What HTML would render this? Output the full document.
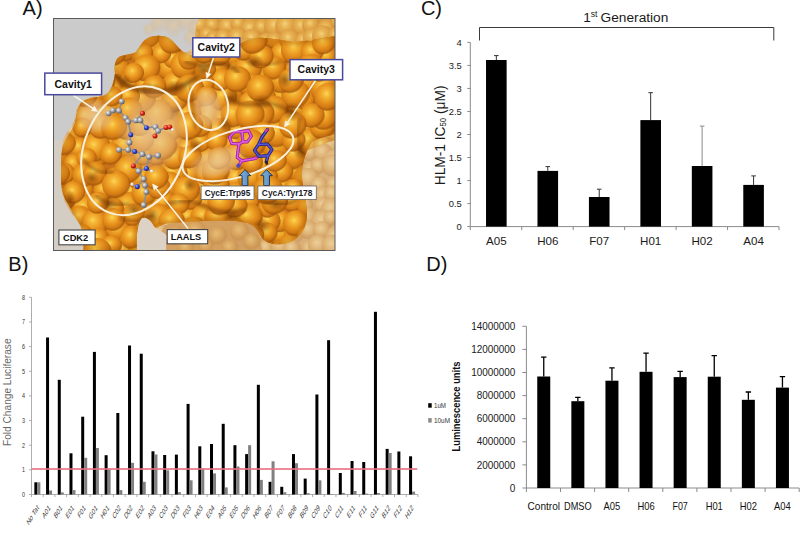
<!DOCTYPE html>
<html><head><meta charset="utf-8"><title>Figure</title>
<style>
html,body{margin:0;padding:0;background:#fff;}
body{width:800px;height:538px;overflow:hidden;font-family:"Liberation Sans", sans-serif;}
svg{display:block;font-family:"Liberation Sans", sans-serif;}
</style></head>
<body>
<svg width="800" height="538" viewBox="0 0 800 538">
<defs>
<clipPath id="cA"><rect x="53.5" y="18.5" width="281.5" height="232.0"/></clipPath>
<clipPath id="cB"><path d="M115 73C114 66 115 60 119 57C125 54 131 55 136 52C140 47 142 41 148 38C154 35 163 35 169 38C175 42 178 49 185 53C190 56 196 57 200 55L232 50C238 44 246 40 256 38C268 37 280 40 292 42C304 42 320 38 336 36L336 134C328 136 318 138 312 142C306 150 301 166 302 178C303 190 307 202 307 214C307 228 300 238 290 242C280 246 268 245 262 238C258 232 256 226 248 223C236 220 220 220 204 221C188 222 172 222 164 224C158 226 156 230 154 226C151 220 146 216 142 218C137 222 136 240 137 250.5L83.5 250.5C83.5 240 83 232 81 226C77 219 72 212 68 204C63 196 61 188 61 178C61 168 61 158 62 150C64 140 70 134 74 126C77 118 76 108 82 102C88 97 98 98 106 95C112 90 114 82 115 73Z"/></clipPath>
<radialGradient id="bs" cx="0.42" cy="0.38" r="0.62"><stop offset="0" stop-color="#fcd656"/><stop offset="0.2" stop-color="#f5b636"/><stop offset="0.5" stop-color="#e8941f"/><stop offset="0.76" stop-color="#d27a14"/><stop offset="0.9" stop-color="#aa5a0a" stop-opacity="0.85"/><stop offset="1" stop-color="#8a4404" stop-opacity="0"/></radialGradient>
<radialGradient id="bp" cx="0.42" cy="0.38" r="0.62"><stop offset="0" stop-color="#eccf98"/><stop offset="0.55" stop-color="#ddb074"/><stop offset="0.9" stop-color="#c89658" stop-opacity="0.6"/><stop offset="1" stop-color="#c89658" stop-opacity="0"/></radialGradient>
<radialGradient id="bq" cx="0.42" cy="0.38" r="0.62"><stop offset="0" stop-color="#e6bd78"/><stop offset="0.6" stop-color="#d49e58"/><stop offset="1" stop-color="#b88040" stop-opacity="0"/></radialGradient>
<radialGradient id="bm" cx="0.42" cy="0.38" r="0.62"><stop offset="0" stop-color="#f2d27c"/><stop offset="0.3" stop-color="#e8b252"/><stop offset="0.7" stop-color="#da9a40"/><stop offset="0.92" stop-color="#c2802c" stop-opacity="0.6"/><stop offset="1" stop-color="#c2802c" stop-opacity="0"/></radialGradient>
<radialGradient id="bg2" cx="0.42" cy="0.38" r="0.62"><stop offset="0" stop-color="#e2c8a0" stop-opacity="0.8"/><stop offset="1" stop-color="#d0b48c" stop-opacity="0"/></radialGradient>
<radialGradient id="sh" cx="0.5" cy="0.5" r="0.5"><stop offset="0" stop-color="#6a3000" stop-opacity="0.6"/><stop offset="1" stop-color="#6a3000" stop-opacity="0"/></radialGradient>
<radialGradient id="pl" cx="0.5" cy="0.5" r="0.5"><stop offset="0" stop-color="#ecd0a0" stop-opacity="0.8"/><stop offset="0.65" stop-color="#e4b880" stop-opacity="0.6"/><stop offset="1" stop-color="#e4b880" stop-opacity="0"/></radialGradient>
<radialGradient id="ball" cx="0.35" cy="0.35" r="0.7"><stop offset="0" stop-color="#f4f4f4"/><stop offset="0.5" stop-color="#a0a0a8"/><stop offset="1" stop-color="#55555c"/></radialGradient>
<radialGradient id="ballb" cx="0.35" cy="0.35" r="0.7"><stop offset="0" stop-color="#a0b0ff"/><stop offset="0.5" stop-color="#3344cc"/><stop offset="1" stop-color="#101870"/></radialGradient>
<radialGradient id="ballr" cx="0.35" cy="0.35" r="0.7"><stop offset="0" stop-color="#ffa090"/><stop offset="0.5" stop-color="#dd2211"/><stop offset="1" stop-color="#801008"/></radialGradient>
<radialGradient id="ballw" cx="0.35" cy="0.35" r="0.7"><stop offset="0" stop-color="#ffffff"/><stop offset="1" stop-color="#c8c8c8"/></radialGradient>
<linearGradient id="arr" x1="0" x2="1"><stop offset="0" stop-color="#86b6e0"/><stop offset="1" stop-color="#4f86bc"/></linearGradient>
<filter id="blur1" x="-5%" y="-5%" width="110%" height="110%"><feGaussianBlur stdDeviation="0.7"/></filter>
<filter id="blur2" x="-10%" y="-10%" width="120%" height="120%"><feGaussianBlur stdDeviation="1.8"/></filter>
<filter id="blur3" x="-5%" y="-5%" width="110%" height="110%"><feGaussianBlur stdDeviation="2.5"/></filter>
</defs>
<g clip-path="url(#cA)">
<rect x="53.5" y="18.5" width="281.5" height="232.0" fill="#dab07a"/>
<circle cx="47.6" cy="13.5" r="11.7" fill="url(#bp)"/>
<circle cx="60.7" cy="13.1" r="10.3" fill="url(#bp)"/>
<circle cx="71.5" cy="13.1" r="10.5" fill="url(#bp)"/>
<circle cx="89.3" cy="9.8" r="9.2" fill="url(#bp)"/>
<circle cx="96.7" cy="15.5" r="10.8" fill="url(#bp)"/>
<circle cx="109.3" cy="16.9" r="11.9" fill="url(#bp)"/>
<circle cx="127.2" cy="13.9" r="8.6" fill="url(#bp)"/>
<circle cx="135.1" cy="13.2" r="8.2" fill="url(#bp)"/>
<circle cx="149.5" cy="10.9" r="8.1" fill="url(#bp)"/>
<circle cx="164.7" cy="12.5" r="11.4" fill="url(#bp)"/>
<circle cx="178.2" cy="14.1" r="10.0" fill="url(#bp)"/>
<circle cx="192.3" cy="12.7" r="9.1" fill="url(#bp)"/>
<circle cx="208.0" cy="17.0" r="11.4" fill="url(#bp)"/>
<circle cx="218.7" cy="11.5" r="8.9" fill="url(#bp)"/>
<circle cx="228.3" cy="9.6" r="11.1" fill="url(#bp)"/>
<circle cx="242.2" cy="15.8" r="9.5" fill="url(#bp)"/>
<circle cx="259.7" cy="15.8" r="8.0" fill="url(#bp)"/>
<circle cx="266.7" cy="16.3" r="9.9" fill="url(#bp)"/>
<circle cx="285.8" cy="12.2" r="8.3" fill="url(#bp)"/>
<circle cx="296.0" cy="15.2" r="9.1" fill="url(#bp)"/>
<circle cx="304.7" cy="11.7" r="11.9" fill="url(#bp)"/>
<circle cx="323.1" cy="9.9" r="9.0" fill="url(#bp)"/>
<circle cx="330.8" cy="9.5" r="11.2" fill="url(#bp)"/>
<circle cx="45.4" cy="26.5" r="9.8" fill="url(#bp)"/>
<circle cx="58.5" cy="27.9" r="8.5" fill="url(#bp)"/>
<circle cx="75.1" cy="22.9" r="9.7" fill="url(#bp)"/>
<circle cx="84.7" cy="24.2" r="11.9" fill="url(#bp)"/>
<circle cx="102.4" cy="24.4" r="11.5" fill="url(#bp)"/>
<circle cx="110.7" cy="25.2" r="11.4" fill="url(#bp)"/>
<circle cx="127.1" cy="22.8" r="12.0" fill="url(#bp)"/>
<circle cx="136.7" cy="24.1" r="11.1" fill="url(#bp)"/>
<circle cx="150.6" cy="24.4" r="8.3" fill="url(#bp)"/>
<circle cx="161.7" cy="26.7" r="9.0" fill="url(#bp)"/>
<circle cx="178.8" cy="25.0" r="9.8" fill="url(#bp)"/>
<circle cx="194.7" cy="25.9" r="10.3" fill="url(#bp)"/>
<circle cx="206.9" cy="23.5" r="8.6" fill="url(#bp)"/>
<circle cx="220.3" cy="28.5" r="9.0" fill="url(#bp)"/>
<circle cx="227.5" cy="27.9" r="11.8" fill="url(#bp)"/>
<circle cx="240.6" cy="29.6" r="11.5" fill="url(#bp)"/>
<circle cx="256.8" cy="25.4" r="8.4" fill="url(#bp)"/>
<circle cx="265.3" cy="29.7" r="9.0" fill="url(#bp)"/>
<circle cx="283.6" cy="24.1" r="11.3" fill="url(#bp)"/>
<circle cx="295.8" cy="24.3" r="8.7" fill="url(#bp)"/>
<circle cx="309.8" cy="22.6" r="8.9" fill="url(#bp)"/>
<circle cx="321.5" cy="28.8" r="10.5" fill="url(#bp)"/>
<circle cx="332.2" cy="29.3" r="8.8" fill="url(#bp)"/>
<circle cx="44.1" cy="37.2" r="9.8" fill="url(#bp)"/>
<circle cx="57.5" cy="36.4" r="9.5" fill="url(#bp)"/>
<circle cx="74.6" cy="36.1" r="9.4" fill="url(#bp)"/>
<circle cx="90.1" cy="42.8" r="10.6" fill="url(#bp)"/>
<circle cx="101.5" cy="39.7" r="8.6" fill="url(#bp)"/>
<circle cx="109.3" cy="35.1" r="11.6" fill="url(#bp)"/>
<circle cx="127.6" cy="42.7" r="8.1" fill="url(#bp)"/>
<circle cx="140.1" cy="38.9" r="10.9" fill="url(#bp)"/>
<circle cx="150.6" cy="43.0" r="8.3" fill="url(#bp)"/>
<circle cx="165.4" cy="40.9" r="11.6" fill="url(#bp)"/>
<circle cx="179.9" cy="40.6" r="11.2" fill="url(#bp)"/>
<circle cx="194.3" cy="37.8" r="10.7" fill="url(#bp)"/>
<circle cx="207.2" cy="42.0" r="9.7" fill="url(#bp)"/>
<circle cx="219.3" cy="41.9" r="10.3" fill="url(#bp)"/>
<circle cx="231.0" cy="38.1" r="10.3" fill="url(#bp)"/>
<circle cx="243.9" cy="35.6" r="10.6" fill="url(#bp)"/>
<circle cx="259.9" cy="42.0" r="10.9" fill="url(#bp)"/>
<circle cx="268.1" cy="40.9" r="10.3" fill="url(#bp)"/>
<circle cx="281.5" cy="41.7" r="8.3" fill="url(#bp)"/>
<circle cx="297.0" cy="35.2" r="10.4" fill="url(#bp)"/>
<circle cx="307.8" cy="36.8" r="10.8" fill="url(#bp)"/>
<circle cx="321.0" cy="39.9" r="11.7" fill="url(#bp)"/>
<circle cx="332.0" cy="35.1" r="9.2" fill="url(#bp)"/>
<circle cx="49.4" cy="49.6" r="8.7" fill="url(#bp)"/>
<circle cx="64.2" cy="53.3" r="9.8" fill="url(#bp)"/>
<circle cx="77.1" cy="50.6" r="10.7" fill="url(#bp)"/>
<circle cx="84.6" cy="51.4" r="11.2" fill="url(#bp)"/>
<circle cx="103.3" cy="55.0" r="9.5" fill="url(#bp)"/>
<circle cx="113.7" cy="50.5" r="8.5" fill="url(#bp)"/>
<circle cx="126.0" cy="54.7" r="11.4" fill="url(#bp)"/>
<circle cx="140.7" cy="55.6" r="9.1" fill="url(#bp)"/>
<circle cx="149.4" cy="51.6" r="9.1" fill="url(#bp)"/>
<circle cx="162.7" cy="51.3" r="10.5" fill="url(#bp)"/>
<circle cx="178.0" cy="50.5" r="11.4" fill="url(#bp)"/>
<circle cx="194.9" cy="51.6" r="8.3" fill="url(#bp)"/>
<circle cx="200.3" cy="55.0" r="8.2" fill="url(#bp)"/>
<circle cx="218.7" cy="52.6" r="9.2" fill="url(#bp)"/>
<circle cx="232.3" cy="48.2" r="8.5" fill="url(#bp)"/>
<circle cx="242.6" cy="48.2" r="11.3" fill="url(#bp)"/>
<circle cx="253.9" cy="49.1" r="8.2" fill="url(#bp)"/>
<circle cx="270.0" cy="51.6" r="10.5" fill="url(#bp)"/>
<circle cx="283.2" cy="54.5" r="11.8" fill="url(#bp)"/>
<circle cx="296.5" cy="49.6" r="9.9" fill="url(#bp)"/>
<circle cx="305.4" cy="48.1" r="9.9" fill="url(#bp)"/>
<circle cx="322.7" cy="49.4" r="9.1" fill="url(#bp)"/>
<circle cx="332.8" cy="53.6" r="10.1" fill="url(#bp)"/>
<circle cx="48.9" cy="67.0" r="9.6" fill="url(#bp)"/>
<circle cx="63.3" cy="68.2" r="8.3" fill="url(#bp)"/>
<circle cx="77.5" cy="66.8" r="8.5" fill="url(#bp)"/>
<circle cx="86.6" cy="66.0" r="11.6" fill="url(#bp)"/>
<circle cx="99.0" cy="65.6" r="11.5" fill="url(#bp)"/>
<circle cx="115.4" cy="68.6" r="9.9" fill="url(#bp)"/>
<circle cx="127.2" cy="62.6" r="10.9" fill="url(#bp)"/>
<circle cx="141.5" cy="66.1" r="10.9" fill="url(#bp)"/>
<circle cx="149.7" cy="68.2" r="11.9" fill="url(#bp)"/>
<circle cx="168.8" cy="65.3" r="11.2" fill="url(#bp)"/>
<circle cx="176.6" cy="68.3" r="11.4" fill="url(#bp)"/>
<circle cx="189.8" cy="61.7" r="9.8" fill="url(#bp)"/>
<circle cx="204.4" cy="67.1" r="9.9" fill="url(#bp)"/>
<circle cx="213.2" cy="67.5" r="8.3" fill="url(#bp)"/>
<circle cx="232.4" cy="62.4" r="9.3" fill="url(#bp)"/>
<circle cx="245.3" cy="62.1" r="8.6" fill="url(#bp)"/>
<circle cx="256.1" cy="66.8" r="11.4" fill="url(#bp)"/>
<circle cx="270.5" cy="68.6" r="10.0" fill="url(#bp)"/>
<circle cx="285.6" cy="61.7" r="8.9" fill="url(#bp)"/>
<circle cx="295.2" cy="63.3" r="10.9" fill="url(#bp)"/>
<circle cx="309.1" cy="65.2" r="11.4" fill="url(#bp)"/>
<circle cx="321.5" cy="63.5" r="9.5" fill="url(#bp)"/>
<circle cx="336.8" cy="68.2" r="8.8" fill="url(#bp)"/>
<circle cx="50.8" cy="81.7" r="10.1" fill="url(#bp)"/>
<circle cx="61.6" cy="75.6" r="10.1" fill="url(#bp)"/>
<circle cx="74.0" cy="78.8" r="8.1" fill="url(#bp)"/>
<circle cx="90.8" cy="78.1" r="9.6" fill="url(#bp)"/>
<circle cx="102.4" cy="78.5" r="10.0" fill="url(#bp)"/>
<circle cx="114.5" cy="74.5" r="10.2" fill="url(#bp)"/>
<circle cx="125.3" cy="81.7" r="11.7" fill="url(#bp)"/>
<circle cx="137.2" cy="77.8" r="8.5" fill="url(#bp)"/>
<circle cx="151.5" cy="80.5" r="11.6" fill="url(#bp)"/>
<circle cx="164.8" cy="76.5" r="8.8" fill="url(#bp)"/>
<circle cx="178.9" cy="81.4" r="8.5" fill="url(#bp)"/>
<circle cx="193.2" cy="74.2" r="8.8" fill="url(#bp)"/>
<circle cx="201.8" cy="79.5" r="9.3" fill="url(#bp)"/>
<circle cx="215.8" cy="79.0" r="8.4" fill="url(#bp)"/>
<circle cx="231.8" cy="75.0" r="10.0" fill="url(#bp)"/>
<circle cx="241.0" cy="75.6" r="10.1" fill="url(#bp)"/>
<circle cx="255.5" cy="77.0" r="9.7" fill="url(#bp)"/>
<circle cx="269.2" cy="75.3" r="8.8" fill="url(#bp)"/>
<circle cx="283.1" cy="79.1" r="10.1" fill="url(#bp)"/>
<circle cx="297.8" cy="78.9" r="11.4" fill="url(#bp)"/>
<circle cx="305.9" cy="79.9" r="11.2" fill="url(#bp)"/>
<circle cx="324.2" cy="76.5" r="9.3" fill="url(#bp)"/>
<circle cx="337.4" cy="75.7" r="12.0" fill="url(#bp)"/>
<circle cx="51.1" cy="88.1" r="9.0" fill="url(#bp)"/>
<circle cx="62.8" cy="89.1" r="8.4" fill="url(#bp)"/>
<circle cx="76.7" cy="90.4" r="11.2" fill="url(#bp)"/>
<circle cx="84.0" cy="90.2" r="10.7" fill="url(#bp)"/>
<circle cx="96.1" cy="88.6" r="10.7" fill="url(#bp)"/>
<circle cx="116.3" cy="94.7" r="8.5" fill="url(#bp)"/>
<circle cx="126.0" cy="93.1" r="10.0" fill="url(#bp)"/>
<circle cx="140.5" cy="88.5" r="8.3" fill="url(#bp)"/>
<circle cx="148.8" cy="87.3" r="10.2" fill="url(#bp)"/>
<circle cx="165.1" cy="91.5" r="8.6" fill="url(#bp)"/>
<circle cx="175.5" cy="88.6" r="11.4" fill="url(#bp)"/>
<circle cx="194.9" cy="94.4" r="8.4" fill="url(#bp)"/>
<circle cx="200.5" cy="94.6" r="9.8" fill="url(#bp)"/>
<circle cx="219.1" cy="89.6" r="9.9" fill="url(#bp)"/>
<circle cx="230.1" cy="90.4" r="10.4" fill="url(#bp)"/>
<circle cx="239.1" cy="92.6" r="11.4" fill="url(#bp)"/>
<circle cx="253.5" cy="90.6" r="11.0" fill="url(#bp)"/>
<circle cx="268.2" cy="88.6" r="8.7" fill="url(#bp)"/>
<circle cx="282.1" cy="87.1" r="11.6" fill="url(#bp)"/>
<circle cx="297.4" cy="92.6" r="11.4" fill="url(#bp)"/>
<circle cx="309.0" cy="90.2" r="10.4" fill="url(#bp)"/>
<circle cx="321.0" cy="94.9" r="11.2" fill="url(#bp)"/>
<circle cx="332.1" cy="94.3" r="11.0" fill="url(#bp)"/>
<circle cx="50.2" cy="106.5" r="9.6" fill="url(#bp)"/>
<circle cx="64.2" cy="107.0" r="10.8" fill="url(#bp)"/>
<circle cx="76.1" cy="106.1" r="9.6" fill="url(#bp)"/>
<circle cx="88.8" cy="100.6" r="9.4" fill="url(#bp)"/>
<circle cx="99.8" cy="100.1" r="9.4" fill="url(#bp)"/>
<circle cx="114.1" cy="105.0" r="8.9" fill="url(#bp)"/>
<circle cx="129.6" cy="105.3" r="9.4" fill="url(#bp)"/>
<circle cx="140.3" cy="104.6" r="10.1" fill="url(#bp)"/>
<circle cx="151.1" cy="108.0" r="10.6" fill="url(#bp)"/>
<circle cx="166.6" cy="106.1" r="11.9" fill="url(#bp)"/>
<circle cx="174.2" cy="104.9" r="11.0" fill="url(#bp)"/>
<circle cx="189.1" cy="103.2" r="8.2" fill="url(#bp)"/>
<circle cx="201.6" cy="103.0" r="8.4" fill="url(#bp)"/>
<circle cx="215.0" cy="107.2" r="10.2" fill="url(#bp)"/>
<circle cx="230.1" cy="107.7" r="10.3" fill="url(#bp)"/>
<circle cx="247.0" cy="105.1" r="11.2" fill="url(#bp)"/>
<circle cx="252.6" cy="104.8" r="11.0" fill="url(#bp)"/>
<circle cx="265.4" cy="107.4" r="8.6" fill="url(#bp)"/>
<circle cx="281.8" cy="101.4" r="10.0" fill="url(#bp)"/>
<circle cx="295.9" cy="100.5" r="11.8" fill="url(#bp)"/>
<circle cx="307.4" cy="104.2" r="10.4" fill="url(#bp)"/>
<circle cx="319.9" cy="102.3" r="10.6" fill="url(#bp)"/>
<circle cx="334.5" cy="102.3" r="10.9" fill="url(#bp)"/>
<circle cx="46.4" cy="113.1" r="9.0" fill="url(#bp)"/>
<circle cx="57.3" cy="114.3" r="11.0" fill="url(#bp)"/>
<circle cx="73.1" cy="120.2" r="11.0" fill="url(#bp)"/>
<circle cx="83.4" cy="120.9" r="11.8" fill="url(#bp)"/>
<circle cx="96.6" cy="120.2" r="9.7" fill="url(#bp)"/>
<circle cx="112.8" cy="120.8" r="9.0" fill="url(#bp)"/>
<circle cx="126.2" cy="120.5" r="10.9" fill="url(#bp)"/>
<circle cx="138.7" cy="120.8" r="11.3" fill="url(#bp)"/>
<circle cx="152.8" cy="113.9" r="10.5" fill="url(#bp)"/>
<circle cx="164.6" cy="114.6" r="8.2" fill="url(#bp)"/>
<circle cx="178.2" cy="114.0" r="9.8" fill="url(#bp)"/>
<circle cx="192.3" cy="116.6" r="9.0" fill="url(#bp)"/>
<circle cx="204.7" cy="116.4" r="11.1" fill="url(#bp)"/>
<circle cx="217.2" cy="121.0" r="11.8" fill="url(#bp)"/>
<circle cx="231.9" cy="114.9" r="8.5" fill="url(#bp)"/>
<circle cx="246.1" cy="119.3" r="10.5" fill="url(#bp)"/>
<circle cx="254.9" cy="115.2" r="10.7" fill="url(#bp)"/>
<circle cx="269.5" cy="117.7" r="10.5" fill="url(#bp)"/>
<circle cx="284.0" cy="114.5" r="9.0" fill="url(#bp)"/>
<circle cx="298.8" cy="120.3" r="11.5" fill="url(#bp)"/>
<circle cx="304.3" cy="113.5" r="9.1" fill="url(#bp)"/>
<circle cx="320.4" cy="118.0" r="8.4" fill="url(#bp)"/>
<circle cx="334.3" cy="113.6" r="8.3" fill="url(#bp)"/>
<circle cx="49.4" cy="130.4" r="10.5" fill="url(#bp)"/>
<circle cx="60.0" cy="129.8" r="8.8" fill="url(#bp)"/>
<circle cx="72.7" cy="132.0" r="11.4" fill="url(#bp)"/>
<circle cx="83.6" cy="127.0" r="11.2" fill="url(#bp)"/>
<circle cx="101.0" cy="132.2" r="8.9" fill="url(#bp)"/>
<circle cx="112.4" cy="128.1" r="11.2" fill="url(#bp)"/>
<circle cx="125.0" cy="131.2" r="12.0" fill="url(#bp)"/>
<circle cx="137.6" cy="130.4" r="11.0" fill="url(#bp)"/>
<circle cx="155.4" cy="129.4" r="9.5" fill="url(#bp)"/>
<circle cx="161.8" cy="133.0" r="8.3" fill="url(#bp)"/>
<circle cx="174.7" cy="130.5" r="9.9" fill="url(#bp)"/>
<circle cx="192.5" cy="128.4" r="11.1" fill="url(#bp)"/>
<circle cx="200.6" cy="127.7" r="10.6" fill="url(#bp)"/>
<circle cx="213.7" cy="128.4" r="10.9" fill="url(#bp)"/>
<circle cx="231.6" cy="128.3" r="8.6" fill="url(#bp)"/>
<circle cx="241.9" cy="131.8" r="9.5" fill="url(#bp)"/>
<circle cx="252.9" cy="131.7" r="10.3" fill="url(#bp)"/>
<circle cx="272.3" cy="133.5" r="11.7" fill="url(#bp)"/>
<circle cx="281.5" cy="132.4" r="9.2" fill="url(#bp)"/>
<circle cx="293.5" cy="129.2" r="11.7" fill="url(#bp)"/>
<circle cx="311.2" cy="128.0" r="9.4" fill="url(#bp)"/>
<circle cx="319.9" cy="128.9" r="9.6" fill="url(#bp)"/>
<circle cx="333.1" cy="127.6" r="10.3" fill="url(#bp)"/>
<circle cx="50.4" cy="143.3" r="11.3" fill="url(#bp)"/>
<circle cx="61.5" cy="140.4" r="11.0" fill="url(#bp)"/>
<circle cx="77.0" cy="141.3" r="8.1" fill="url(#bp)"/>
<circle cx="87.1" cy="143.4" r="10.3" fill="url(#bp)"/>
<circle cx="103.7" cy="144.2" r="11.2" fill="url(#bp)"/>
<circle cx="109.5" cy="143.4" r="11.2" fill="url(#bp)"/>
<circle cx="122.7" cy="139.7" r="10.9" fill="url(#bp)"/>
<circle cx="142.2" cy="139.7" r="10.5" fill="url(#bp)"/>
<circle cx="149.2" cy="145.0" r="10.6" fill="url(#bp)"/>
<circle cx="163.0" cy="140.8" r="11.1" fill="url(#bp)"/>
<circle cx="178.2" cy="145.1" r="9.6" fill="url(#bp)"/>
<circle cx="189.7" cy="146.7" r="10.7" fill="url(#bp)"/>
<circle cx="203.9" cy="143.3" r="10.9" fill="url(#bp)"/>
<circle cx="218.7" cy="146.3" r="9.6" fill="url(#bp)"/>
<circle cx="232.6" cy="144.3" r="11.4" fill="url(#bp)"/>
<circle cx="245.4" cy="145.7" r="11.6" fill="url(#bp)"/>
<circle cx="259.7" cy="144.1" r="10.1" fill="url(#bp)"/>
<circle cx="270.7" cy="145.4" r="9.7" fill="url(#bp)"/>
<circle cx="281.4" cy="140.2" r="11.0" fill="url(#bp)"/>
<circle cx="298.9" cy="142.0" r="8.7" fill="url(#bp)"/>
<circle cx="305.6" cy="142.4" r="9.2" fill="url(#bp)"/>
<circle cx="324.8" cy="139.5" r="9.2" fill="url(#bp)"/>
<circle cx="330.9" cy="144.2" r="11.1" fill="url(#bp)"/>
<circle cx="45.4" cy="152.5" r="9.8" fill="url(#bp)"/>
<circle cx="61.7" cy="159.3" r="8.1" fill="url(#bp)"/>
<circle cx="70.9" cy="153.5" r="8.9" fill="url(#bp)"/>
<circle cx="84.9" cy="157.7" r="10.4" fill="url(#bp)"/>
<circle cx="97.8" cy="153.5" r="9.1" fill="url(#bp)"/>
<circle cx="110.4" cy="158.1" r="9.2" fill="url(#bp)"/>
<circle cx="126.4" cy="158.5" r="9.9" fill="url(#bp)"/>
<circle cx="137.1" cy="159.1" r="11.7" fill="url(#bp)"/>
<circle cx="150.7" cy="156.4" r="11.8" fill="url(#bp)"/>
<circle cx="164.9" cy="153.8" r="8.2" fill="url(#bp)"/>
<circle cx="181.6" cy="158.4" r="9.5" fill="url(#bp)"/>
<circle cx="191.2" cy="156.1" r="9.1" fill="url(#bp)"/>
<circle cx="207.9" cy="157.3" r="9.0" fill="url(#bp)"/>
<circle cx="213.1" cy="155.8" r="9.5" fill="url(#bp)"/>
<circle cx="232.4" cy="157.7" r="10.4" fill="url(#bp)"/>
<circle cx="240.3" cy="153.3" r="9.3" fill="url(#bp)"/>
<circle cx="254.1" cy="159.0" r="10.1" fill="url(#bp)"/>
<circle cx="270.1" cy="159.9" r="9.1" fill="url(#bp)"/>
<circle cx="282.3" cy="153.2" r="11.1" fill="url(#bp)"/>
<circle cx="291.0" cy="158.6" r="11.4" fill="url(#bp)"/>
<circle cx="310.6" cy="152.7" r="9.1" fill="url(#bp)"/>
<circle cx="322.7" cy="152.8" r="9.9" fill="url(#bp)"/>
<circle cx="333.7" cy="159.6" r="10.3" fill="url(#bp)"/>
<circle cx="50.9" cy="167.4" r="11.2" fill="url(#bp)"/>
<circle cx="60.3" cy="172.3" r="8.4" fill="url(#bp)"/>
<circle cx="76.6" cy="166.7" r="10.2" fill="url(#bp)"/>
<circle cx="87.2" cy="166.3" r="11.3" fill="url(#bp)"/>
<circle cx="98.5" cy="167.5" r="8.3" fill="url(#bp)"/>
<circle cx="111.4" cy="168.7" r="10.9" fill="url(#bp)"/>
<circle cx="124.9" cy="170.5" r="8.4" fill="url(#bp)"/>
<circle cx="138.2" cy="168.7" r="11.9" fill="url(#bp)"/>
<circle cx="154.6" cy="170.2" r="8.0" fill="url(#bp)"/>
<circle cx="164.0" cy="170.7" r="8.9" fill="url(#bp)"/>
<circle cx="178.5" cy="168.7" r="8.0" fill="url(#bp)"/>
<circle cx="194.9" cy="171.4" r="8.8" fill="url(#bp)"/>
<circle cx="204.9" cy="167.3" r="9.5" fill="url(#bp)"/>
<circle cx="217.3" cy="167.4" r="9.3" fill="url(#bp)"/>
<circle cx="229.1" cy="170.3" r="9.0" fill="url(#bp)"/>
<circle cx="240.6" cy="170.9" r="9.3" fill="url(#bp)"/>
<circle cx="259.6" cy="169.5" r="10.9" fill="url(#bp)"/>
<circle cx="267.7" cy="171.6" r="8.4" fill="url(#bp)"/>
<circle cx="279.1" cy="165.8" r="10.7" fill="url(#bp)"/>
<circle cx="296.7" cy="166.4" r="9.6" fill="url(#bp)"/>
<circle cx="310.7" cy="169.7" r="8.4" fill="url(#bp)"/>
<circle cx="318.8" cy="166.3" r="8.5" fill="url(#bp)"/>
<circle cx="333.3" cy="165.6" r="11.7" fill="url(#bp)"/>
<circle cx="47.4" cy="182.1" r="10.6" fill="url(#bp)"/>
<circle cx="63.1" cy="184.6" r="9.5" fill="url(#bp)"/>
<circle cx="72.7" cy="181.3" r="8.1" fill="url(#bp)"/>
<circle cx="86.2" cy="183.6" r="11.9" fill="url(#bp)"/>
<circle cx="102.3" cy="183.3" r="10.4" fill="url(#bp)"/>
<circle cx="109.1" cy="180.6" r="9.4" fill="url(#bp)"/>
<circle cx="127.2" cy="178.9" r="9.5" fill="url(#bp)"/>
<circle cx="139.1" cy="184.3" r="11.3" fill="url(#bp)"/>
<circle cx="152.9" cy="179.3" r="11.1" fill="url(#bp)"/>
<circle cx="168.2" cy="182.4" r="9.4" fill="url(#bp)"/>
<circle cx="178.0" cy="179.1" r="10.9" fill="url(#bp)"/>
<circle cx="194.9" cy="182.1" r="10.9" fill="url(#bp)"/>
<circle cx="206.7" cy="179.6" r="11.8" fill="url(#bp)"/>
<circle cx="218.0" cy="179.6" r="8.3" fill="url(#bp)"/>
<circle cx="228.0" cy="182.6" r="10.8" fill="url(#bp)"/>
<circle cx="241.6" cy="185.4" r="9.4" fill="url(#bp)"/>
<circle cx="255.7" cy="179.0" r="11.9" fill="url(#bp)"/>
<circle cx="266.1" cy="185.2" r="10.2" fill="url(#bp)"/>
<circle cx="282.5" cy="182.5" r="9.1" fill="url(#bp)"/>
<circle cx="298.3" cy="185.9" r="11.3" fill="url(#bp)"/>
<circle cx="308.8" cy="179.0" r="11.3" fill="url(#bp)"/>
<circle cx="319.3" cy="185.2" r="9.0" fill="url(#bp)"/>
<circle cx="334.6" cy="184.6" r="8.7" fill="url(#bp)"/>
<circle cx="48.4" cy="191.6" r="8.1" fill="url(#bp)"/>
<circle cx="58.4" cy="198.9" r="11.8" fill="url(#bp)"/>
<circle cx="75.3" cy="193.5" r="10.7" fill="url(#bp)"/>
<circle cx="88.9" cy="194.1" r="10.4" fill="url(#bp)"/>
<circle cx="102.4" cy="191.1" r="8.8" fill="url(#bp)"/>
<circle cx="112.7" cy="192.1" r="9.5" fill="url(#bp)"/>
<circle cx="126.6" cy="192.4" r="10.1" fill="url(#bp)"/>
<circle cx="137.1" cy="195.5" r="9.3" fill="url(#bp)"/>
<circle cx="153.1" cy="191.3" r="10.7" fill="url(#bp)"/>
<circle cx="162.2" cy="198.7" r="10.4" fill="url(#bp)"/>
<circle cx="177.8" cy="194.3" r="10.5" fill="url(#bp)"/>
<circle cx="192.5" cy="197.1" r="11.0" fill="url(#bp)"/>
<circle cx="203.9" cy="199.0" r="11.4" fill="url(#bp)"/>
<circle cx="219.8" cy="194.3" r="9.7" fill="url(#bp)"/>
<circle cx="230.5" cy="198.2" r="10.1" fill="url(#bp)"/>
<circle cx="243.2" cy="194.5" r="11.6" fill="url(#bp)"/>
<circle cx="254.6" cy="191.4" r="10.9" fill="url(#bp)"/>
<circle cx="272.2" cy="196.9" r="10.4" fill="url(#bp)"/>
<circle cx="284.0" cy="193.4" r="10.4" fill="url(#bp)"/>
<circle cx="291.6" cy="192.0" r="9.8" fill="url(#bp)"/>
<circle cx="308.0" cy="194.2" r="8.2" fill="url(#bp)"/>
<circle cx="322.6" cy="195.2" r="9.0" fill="url(#bp)"/>
<circle cx="332.5" cy="194.2" r="8.9" fill="url(#bp)"/>
<circle cx="44.5" cy="211.3" r="11.9" fill="url(#bp)"/>
<circle cx="62.3" cy="210.9" r="9.7" fill="url(#bp)"/>
<circle cx="76.4" cy="205.8" r="11.0" fill="url(#bp)"/>
<circle cx="87.5" cy="211.2" r="8.4" fill="url(#bp)"/>
<circle cx="102.3" cy="205.0" r="10.2" fill="url(#bp)"/>
<circle cx="116.6" cy="204.0" r="9.0" fill="url(#bp)"/>
<circle cx="124.4" cy="206.6" r="8.3" fill="url(#bp)"/>
<circle cx="142.2" cy="210.5" r="9.6" fill="url(#bp)"/>
<circle cx="150.9" cy="208.7" r="8.2" fill="url(#bp)"/>
<circle cx="161.2" cy="211.2" r="9.2" fill="url(#bp)"/>
<circle cx="178.0" cy="211.5" r="11.9" fill="url(#bp)"/>
<circle cx="190.8" cy="205.7" r="9.2" fill="url(#bp)"/>
<circle cx="207.4" cy="211.2" r="8.8" fill="url(#bp)"/>
<circle cx="219.7" cy="206.8" r="9.9" fill="url(#bp)"/>
<circle cx="227.4" cy="211.0" r="12.0" fill="url(#bp)"/>
<circle cx="240.6" cy="209.1" r="8.8" fill="url(#bp)"/>
<circle cx="259.0" cy="204.4" r="8.4" fill="url(#bp)"/>
<circle cx="270.8" cy="206.5" r="11.6" fill="url(#bp)"/>
<circle cx="285.0" cy="209.7" r="8.5" fill="url(#bp)"/>
<circle cx="296.6" cy="211.5" r="9.8" fill="url(#bp)"/>
<circle cx="304.6" cy="205.8" r="9.2" fill="url(#bp)"/>
<circle cx="322.7" cy="205.6" r="8.7" fill="url(#bp)"/>
<circle cx="331.9" cy="209.3" r="11.2" fill="url(#bp)"/>
<circle cx="47.0" cy="222.3" r="11.5" fill="url(#bp)"/>
<circle cx="61.7" cy="218.8" r="9.2" fill="url(#bp)"/>
<circle cx="77.4" cy="222.3" r="9.1" fill="url(#bp)"/>
<circle cx="88.1" cy="217.7" r="11.9" fill="url(#bp)"/>
<circle cx="99.5" cy="221.2" r="10.1" fill="url(#bp)"/>
<circle cx="109.4" cy="221.8" r="9.1" fill="url(#bp)"/>
<circle cx="124.0" cy="223.4" r="8.3" fill="url(#bp)"/>
<circle cx="137.3" cy="223.0" r="9.0" fill="url(#bp)"/>
<circle cx="150.2" cy="221.4" r="8.7" fill="url(#bp)"/>
<circle cx="168.2" cy="224.9" r="8.1" fill="url(#bp)"/>
<circle cx="177.7" cy="223.0" r="9.5" fill="url(#bp)"/>
<circle cx="194.4" cy="221.0" r="8.7" fill="url(#bp)"/>
<circle cx="204.4" cy="222.2" r="9.4" fill="url(#bp)"/>
<circle cx="218.3" cy="223.3" r="10.1" fill="url(#bp)"/>
<circle cx="230.0" cy="223.8" r="10.7" fill="url(#bp)"/>
<circle cx="243.2" cy="224.6" r="8.7" fill="url(#bp)"/>
<circle cx="258.2" cy="218.3" r="10.4" fill="url(#bp)"/>
<circle cx="266.9" cy="220.5" r="11.1" fill="url(#bp)"/>
<circle cx="284.3" cy="223.3" r="8.9" fill="url(#bp)"/>
<circle cx="294.9" cy="218.8" r="10.3" fill="url(#bp)"/>
<circle cx="308.0" cy="217.3" r="10.4" fill="url(#bp)"/>
<circle cx="322.7" cy="221.6" r="11.5" fill="url(#bp)"/>
<circle cx="331.4" cy="218.2" r="8.1" fill="url(#bp)"/>
<circle cx="48.0" cy="233.5" r="9.8" fill="url(#bp)"/>
<circle cx="59.1" cy="236.4" r="8.3" fill="url(#bp)"/>
<circle cx="77.3" cy="234.6" r="10.2" fill="url(#bp)"/>
<circle cx="89.3" cy="231.9" r="8.6" fill="url(#bp)"/>
<circle cx="98.5" cy="230.3" r="9.3" fill="url(#bp)"/>
<circle cx="114.0" cy="234.2" r="9.1" fill="url(#bp)"/>
<circle cx="126.7" cy="230.7" r="11.3" fill="url(#bp)"/>
<circle cx="136.4" cy="232.0" r="8.6" fill="url(#bp)"/>
<circle cx="153.5" cy="236.6" r="11.1" fill="url(#bp)"/>
<circle cx="161.5" cy="233.3" r="9.5" fill="url(#bp)"/>
<circle cx="175.7" cy="237.8" r="8.2" fill="url(#bp)"/>
<circle cx="190.9" cy="236.1" r="11.9" fill="url(#bp)"/>
<circle cx="201.2" cy="233.6" r="11.0" fill="url(#bp)"/>
<circle cx="213.3" cy="231.9" r="11.6" fill="url(#bp)"/>
<circle cx="227.1" cy="233.1" r="9.2" fill="url(#bp)"/>
<circle cx="242.4" cy="230.6" r="8.1" fill="url(#bp)"/>
<circle cx="260.0" cy="236.1" r="10.9" fill="url(#bp)"/>
<circle cx="266.8" cy="232.0" r="10.2" fill="url(#bp)"/>
<circle cx="279.9" cy="233.7" r="11.7" fill="url(#bp)"/>
<circle cx="293.9" cy="232.7" r="11.9" fill="url(#bp)"/>
<circle cx="308.9" cy="230.3" r="9.6" fill="url(#bp)"/>
<circle cx="322.2" cy="230.5" r="9.4" fill="url(#bp)"/>
<circle cx="335.6" cy="236.9" r="10.4" fill="url(#bp)"/>
<circle cx="51.1" cy="246.7" r="9.6" fill="url(#bp)"/>
<circle cx="63.7" cy="246.0" r="11.1" fill="url(#bp)"/>
<circle cx="71.7" cy="245.8" r="8.7" fill="url(#bp)"/>
<circle cx="87.4" cy="244.3" r="8.8" fill="url(#bp)"/>
<circle cx="97.7" cy="246.7" r="9.2" fill="url(#bp)"/>
<circle cx="112.6" cy="250.9" r="10.7" fill="url(#bp)"/>
<circle cx="128.9" cy="244.6" r="9.5" fill="url(#bp)"/>
<circle cx="135.6" cy="248.5" r="9.5" fill="url(#bp)"/>
<circle cx="150.2" cy="243.1" r="8.7" fill="url(#bp)"/>
<circle cx="163.1" cy="246.1" r="11.7" fill="url(#bp)"/>
<circle cx="179.7" cy="245.1" r="9.4" fill="url(#bp)"/>
<circle cx="188.2" cy="250.5" r="9.4" fill="url(#bp)"/>
<circle cx="206.1" cy="248.8" r="11.6" fill="url(#bp)"/>
<circle cx="213.2" cy="245.6" r="9.5" fill="url(#bp)"/>
<circle cx="226.7" cy="250.1" r="9.3" fill="url(#bp)"/>
<circle cx="245.2" cy="247.2" r="8.2" fill="url(#bp)"/>
<circle cx="255.2" cy="244.9" r="8.2" fill="url(#bp)"/>
<circle cx="266.2" cy="247.8" r="8.1" fill="url(#bp)"/>
<circle cx="280.5" cy="246.4" r="10.2" fill="url(#bp)"/>
<circle cx="292.1" cy="248.7" r="9.0" fill="url(#bp)"/>
<circle cx="309.8" cy="248.3" r="8.6" fill="url(#bp)"/>
<circle cx="318.6" cy="245.2" r="10.9" fill="url(#bp)"/>
<circle cx="333.2" cy="246.1" r="11.5" fill="url(#bp)"/>
<path d="M53.5 18.5H200C197 26 196 34 196 42C194 48 189 52 183 53C178 49 175 42 169 38C163 35 154 35 148 38C142 41 140 47 136 52C131 55 125 54 119 57C115 60 114 66 115 73C114 80 112 88 108 93C100 97 92 96 86 99C80 102 77 106 76 112C75 120 72 127 66 134C62 140 60 148 59 160C58 175 58 195 60 210C62 222 70 232 78 240C82 244 85 247 87 250.5H53.5Z" fill="#cbcbcb"/>
<circle cx="160" cy="24" r="10" fill="url(#bg2)"/>
<circle cx="175" cy="28" r="10" fill="url(#bg2)"/>
<circle cx="188" cy="22" r="11" fill="url(#bg2)"/>
<circle cx="192" cy="38" r="9" fill="url(#bg2)"/>
<circle cx="150" cy="30" r="7" fill="url(#bg2)"/>
<circle cx="170" cy="16" r="8" fill="url(#bg2)"/>
<circle cx="196" cy="28" r="8" fill="url(#bg2)"/>
<path d="M53.5 140H63C61 160 60 180 62 192C64 204 72 214 78 222C82 228 84 238 84 250.5H53.5Z" fill="#d4cdc4"/>
<path d="M158 250.5C158 240 160 228 168 224C190 218 230 218 250 222C258 226 260 236 262 250.5Z" fill="#d3a062"/>
<circle cx="176" cy="236" r="10" fill="url(#bq)"/>
<circle cx="196" cy="232" r="11" fill="url(#bq)"/>
<circle cx="218" cy="236" r="10" fill="url(#bq)"/>
<circle cx="240" cy="232" r="10" fill="url(#bq)"/>
<circle cx="252" cy="242" r="9" fill="url(#bq)"/>
<circle cx="186" cy="248" r="9" fill="url(#bq)"/>
<circle cx="230" cy="248" r="9" fill="url(#bq)"/>
<circle cx="206" cy="246" r="8" fill="url(#bq)"/>
<path d="M137 250.5C136 240 137 222 142 218C146 216 151 220 154 226C158 230 164 232 167 236C166 242 166 246 166 250.5Z" fill="#dcd3c6"/>
<clipPath id="cS"><path d="M199 18.5H336V140C325 143 315 147 308 150L300 60L240 52L200 52C194 44 194 30 199 18.5Z"/></clipPath>
<path d="M199 18.5H336V140C325 143 315 147 308 150L300 60L240 52L200 52C194 44 194 30 199 18.5Z" fill="#d89c48"/>
<g clip-path="url(#cS)" filter="url(#blur1)">
<circle cx="189.8" cy="12.3" r="9.4" fill="url(#bm)"/>
<circle cx="201.7" cy="10.3" r="8.1" fill="url(#bm)"/>
<circle cx="217.0" cy="14.5" r="11.2" fill="url(#bm)"/>
<circle cx="231.8" cy="12.4" r="10.7" fill="url(#bm)"/>
<circle cx="243.4" cy="11.7" r="10.8" fill="url(#bm)"/>
<circle cx="253.3" cy="17.6" r="11.5" fill="url(#bm)"/>
<circle cx="261.9" cy="15.1" r="8.4" fill="url(#bm)"/>
<circle cx="275.4" cy="13.1" r="8.2" fill="url(#bm)"/>
<circle cx="287.1" cy="12.6" r="10.0" fill="url(#bm)"/>
<circle cx="298.2" cy="11.3" r="9.6" fill="url(#bm)"/>
<circle cx="311.8" cy="11.3" r="10.7" fill="url(#bm)"/>
<circle cx="321.9" cy="10.7" r="9.4" fill="url(#bm)"/>
<circle cx="335.4" cy="11.2" r="10.3" fill="url(#bm)"/>
<circle cx="193.6" cy="26.4" r="10.8" fill="url(#bm)"/>
<circle cx="200.2" cy="25.1" r="9.5" fill="url(#bm)"/>
<circle cx="212.5" cy="25.2" r="8.2" fill="url(#bm)"/>
<circle cx="228.0" cy="26.7" r="9.9" fill="url(#bm)"/>
<circle cx="238.6" cy="24.0" r="8.1" fill="url(#bm)"/>
<circle cx="250.8" cy="29.1" r="10.3" fill="url(#bm)"/>
<circle cx="262.1" cy="27.3" r="8.7" fill="url(#bm)"/>
<circle cx="275.8" cy="26.9" r="11.8" fill="url(#bm)"/>
<circle cx="286.9" cy="26.6" r="11.8" fill="url(#bm)"/>
<circle cx="302.2" cy="27.0" r="10.5" fill="url(#bm)"/>
<circle cx="311.3" cy="25.3" r="9.1" fill="url(#bm)"/>
<circle cx="326.6" cy="29.0" r="9.5" fill="url(#bm)"/>
<circle cx="339.3" cy="22.3" r="8.5" fill="url(#bm)"/>
<circle cx="192.1" cy="36.5" r="9.4" fill="url(#bm)"/>
<circle cx="207.8" cy="35.2" r="8.8" fill="url(#bm)"/>
<circle cx="213.8" cy="39.4" r="8.9" fill="url(#bm)"/>
<circle cx="224.0" cy="38.4" r="9.6" fill="url(#bm)"/>
<circle cx="237.9" cy="37.9" r="10.6" fill="url(#bm)"/>
<circle cx="252.4" cy="39.0" r="10.2" fill="url(#bm)"/>
<circle cx="266.6" cy="41.8" r="9.3" fill="url(#bm)"/>
<circle cx="274.8" cy="41.1" r="9.3" fill="url(#bm)"/>
<circle cx="289.7" cy="39.6" r="10.7" fill="url(#bm)"/>
<circle cx="303.7" cy="40.6" r="8.6" fill="url(#bm)"/>
<circle cx="313.0" cy="37.9" r="10.3" fill="url(#bm)"/>
<circle cx="323.0" cy="36.3" r="11.0" fill="url(#bm)"/>
<circle cx="336.3" cy="35.9" r="9.0" fill="url(#bm)"/>
<circle cx="190.6" cy="47.4" r="10.1" fill="url(#bm)"/>
<circle cx="201.0" cy="46.5" r="8.3" fill="url(#bm)"/>
<circle cx="212.8" cy="51.6" r="8.5" fill="url(#bm)"/>
<circle cx="227.6" cy="52.2" r="9.9" fill="url(#bm)"/>
<circle cx="237.3" cy="52.9" r="11.5" fill="url(#bm)"/>
<circle cx="248.4" cy="48.0" r="10.0" fill="url(#bm)"/>
<circle cx="266.4" cy="49.1" r="10.9" fill="url(#bm)"/>
<circle cx="274.0" cy="51.7" r="9.3" fill="url(#bm)"/>
<circle cx="286.7" cy="52.1" r="11.4" fill="url(#bm)"/>
<circle cx="302.6" cy="50.5" r="9.7" fill="url(#bm)"/>
<circle cx="313.7" cy="51.0" r="11.3" fill="url(#bm)"/>
<circle cx="326.4" cy="47.0" r="9.5" fill="url(#bm)"/>
<circle cx="337.4" cy="47.8" r="8.7" fill="url(#bm)"/>
<circle cx="188.1" cy="62.7" r="11.8" fill="url(#bm)"/>
<circle cx="207.8" cy="59.1" r="10.8" fill="url(#bm)"/>
<circle cx="215.4" cy="63.1" r="9.6" fill="url(#bm)"/>
<circle cx="231.5" cy="65.9" r="8.2" fill="url(#bm)"/>
<circle cx="241.7" cy="58.9" r="8.2" fill="url(#bm)"/>
<circle cx="250.3" cy="63.8" r="12.0" fill="url(#bm)"/>
<circle cx="261.0" cy="60.6" r="8.1" fill="url(#bm)"/>
<circle cx="276.3" cy="61.9" r="9.5" fill="url(#bm)"/>
<circle cx="286.5" cy="64.4" r="11.4" fill="url(#bm)"/>
<circle cx="298.3" cy="61.1" r="10.5" fill="url(#bm)"/>
<circle cx="314.1" cy="65.8" r="9.6" fill="url(#bm)"/>
<circle cx="325.6" cy="62.4" r="11.2" fill="url(#bm)"/>
<circle cx="333.2" cy="59.4" r="8.4" fill="url(#bm)"/>
<circle cx="195.5" cy="72.0" r="10.0" fill="url(#bm)"/>
<circle cx="201.0" cy="72.6" r="8.1" fill="url(#bm)"/>
<circle cx="216.5" cy="71.1" r="10.5" fill="url(#bm)"/>
<circle cx="226.2" cy="71.8" r="9.9" fill="url(#bm)"/>
<circle cx="238.9" cy="72.1" r="8.2" fill="url(#bm)"/>
<circle cx="248.5" cy="77.1" r="9.2" fill="url(#bm)"/>
<circle cx="260.6" cy="71.5" r="9.9" fill="url(#bm)"/>
<circle cx="280.0" cy="71.6" r="11.5" fill="url(#bm)"/>
<circle cx="287.9" cy="73.3" r="11.2" fill="url(#bm)"/>
<circle cx="299.2" cy="70.5" r="10.2" fill="url(#bm)"/>
<circle cx="313.3" cy="75.0" r="9.1" fill="url(#bm)"/>
<circle cx="327.5" cy="76.9" r="12.0" fill="url(#bm)"/>
<circle cx="335.5" cy="76.7" r="10.9" fill="url(#bm)"/>
<circle cx="189.4" cy="82.2" r="8.7" fill="url(#bm)"/>
<circle cx="201.0" cy="82.6" r="9.4" fill="url(#bm)"/>
<circle cx="218.0" cy="84.5" r="10.1" fill="url(#bm)"/>
<circle cx="224.1" cy="83.7" r="11.8" fill="url(#bm)"/>
<circle cx="236.1" cy="86.2" r="11.2" fill="url(#bm)"/>
<circle cx="254.3" cy="87.9" r="9.6" fill="url(#bm)"/>
<circle cx="266.4" cy="88.6" r="11.1" fill="url(#bm)"/>
<circle cx="279.9" cy="82.8" r="11.8" fill="url(#bm)"/>
<circle cx="287.2" cy="87.6" r="9.0" fill="url(#bm)"/>
<circle cx="303.3" cy="82.2" r="10.3" fill="url(#bm)"/>
<circle cx="309.8" cy="85.1" r="9.5" fill="url(#bm)"/>
<circle cx="325.3" cy="88.5" r="9.5" fill="url(#bm)"/>
<circle cx="337.1" cy="84.8" r="9.1" fill="url(#bm)"/>
<circle cx="195.2" cy="96.6" r="8.4" fill="url(#bm)"/>
<circle cx="202.7" cy="99.9" r="8.8" fill="url(#bm)"/>
<circle cx="217.9" cy="98.4" r="10.7" fill="url(#bm)"/>
<circle cx="225.4" cy="94.8" r="8.6" fill="url(#bm)"/>
<circle cx="238.8" cy="97.4" r="8.0" fill="url(#bm)"/>
<circle cx="252.0" cy="97.2" r="9.3" fill="url(#bm)"/>
<circle cx="264.3" cy="101.6" r="8.8" fill="url(#bm)"/>
<circle cx="279.0" cy="96.6" r="11.0" fill="url(#bm)"/>
<circle cx="284.9" cy="101.9" r="9.7" fill="url(#bm)"/>
<circle cx="303.7" cy="95.8" r="9.6" fill="url(#bm)"/>
<circle cx="313.6" cy="95.4" r="9.1" fill="url(#bm)"/>
<circle cx="325.4" cy="101.6" r="9.3" fill="url(#bm)"/>
<circle cx="333.5" cy="96.9" r="12.0" fill="url(#bm)"/>
<circle cx="189.2" cy="111.1" r="9.5" fill="url(#bm)"/>
<circle cx="205.2" cy="107.7" r="10.5" fill="url(#bm)"/>
<circle cx="219.1" cy="112.9" r="10.5" fill="url(#bm)"/>
<circle cx="228.0" cy="110.5" r="8.5" fill="url(#bm)"/>
<circle cx="242.7" cy="111.5" r="9.8" fill="url(#bm)"/>
<circle cx="253.3" cy="109.4" r="9.5" fill="url(#bm)"/>
<circle cx="261.8" cy="110.8" r="10.3" fill="url(#bm)"/>
<circle cx="276.1" cy="106.3" r="10.5" fill="url(#bm)"/>
<circle cx="287.6" cy="110.7" r="10.4" fill="url(#bm)"/>
<circle cx="303.5" cy="107.2" r="9.9" fill="url(#bm)"/>
<circle cx="315.9" cy="111.9" r="9.3" fill="url(#bm)"/>
<circle cx="325.9" cy="113.9" r="9.6" fill="url(#bm)"/>
<circle cx="338.9" cy="107.0" r="12.0" fill="url(#bm)"/>
<circle cx="191.9" cy="119.9" r="11.4" fill="url(#bm)"/>
<circle cx="205.2" cy="125.5" r="11.3" fill="url(#bm)"/>
<circle cx="218.4" cy="122.1" r="12.0" fill="url(#bm)"/>
<circle cx="224.5" cy="125.0" r="10.8" fill="url(#bm)"/>
<circle cx="238.0" cy="124.5" r="9.8" fill="url(#bm)"/>
<circle cx="252.3" cy="124.9" r="8.8" fill="url(#bm)"/>
<circle cx="262.2" cy="123.1" r="8.3" fill="url(#bm)"/>
<circle cx="276.4" cy="124.3" r="10.0" fill="url(#bm)"/>
<circle cx="285.9" cy="124.4" r="11.4" fill="url(#bm)"/>
<circle cx="302.2" cy="122.4" r="11.6" fill="url(#bm)"/>
<circle cx="314.4" cy="119.2" r="9.5" fill="url(#bm)"/>
<circle cx="320.8" cy="118.3" r="9.4" fill="url(#bm)"/>
<circle cx="338.9" cy="124.7" r="8.5" fill="url(#bm)"/>
<circle cx="189.5" cy="133.1" r="11.4" fill="url(#bm)"/>
<circle cx="204.9" cy="137.2" r="8.3" fill="url(#bm)"/>
<circle cx="219.9" cy="131.7" r="10.5" fill="url(#bm)"/>
<circle cx="231.0" cy="135.8" r="8.8" fill="url(#bm)"/>
<circle cx="241.3" cy="133.4" r="8.1" fill="url(#bm)"/>
<circle cx="250.7" cy="132.5" r="10.5" fill="url(#bm)"/>
<circle cx="262.2" cy="134.8" r="10.8" fill="url(#bm)"/>
<circle cx="273.4" cy="131.0" r="10.8" fill="url(#bm)"/>
<circle cx="287.7" cy="131.0" r="8.5" fill="url(#bm)"/>
<circle cx="303.5" cy="134.9" r="9.4" fill="url(#bm)"/>
<circle cx="309.6" cy="138.0" r="10.8" fill="url(#bm)"/>
<circle cx="325.9" cy="132.9" r="9.2" fill="url(#bm)"/>
<circle cx="335.3" cy="131.2" r="10.5" fill="url(#bm)"/>
<circle cx="191.4" cy="148.6" r="9.6" fill="url(#bm)"/>
<circle cx="203.7" cy="146.1" r="11.8" fill="url(#bm)"/>
<circle cx="214.8" cy="147.6" r="8.9" fill="url(#bm)"/>
<circle cx="228.6" cy="144.3" r="11.5" fill="url(#bm)"/>
<circle cx="238.3" cy="148.8" r="10.7" fill="url(#bm)"/>
<circle cx="251.6" cy="149.5" r="9.6" fill="url(#bm)"/>
<circle cx="265.9" cy="146.8" r="9.8" fill="url(#bm)"/>
<circle cx="272.5" cy="145.4" r="9.1" fill="url(#bm)"/>
<circle cx="287.5" cy="149.6" r="9.2" fill="url(#bm)"/>
<circle cx="301.6" cy="147.4" r="9.0" fill="url(#bm)"/>
<circle cx="311.3" cy="143.1" r="11.6" fill="url(#bm)"/>
<circle cx="322.0" cy="145.4" r="9.4" fill="url(#bm)"/>
<circle cx="338.6" cy="148.8" r="10.4" fill="url(#bm)"/>
</g>
<path d="M115 73C114 66 115 60 119 57C125 54 131 55 136 52C140 47 142 41 148 38C154 35 163 35 169 38C175 42 178 49 185 53C190 56 196 57 200 55L232 50C238 44 246 40 256 38C268 37 280 40 292 42C304 42 320 38 336 36L336 134C328 136 318 138 312 142C306 150 301 166 302 178C303 190 307 202 307 214C307 228 300 238 290 242C280 246 268 245 262 238C258 232 256 226 248 223C236 220 220 220 204 221C188 222 172 222 164 224C158 226 156 230 154 226C151 220 146 216 142 218C137 222 136 240 137 250.5L83.5 250.5C83.5 240 83 232 81 226C77 219 72 212 68 204C63 196 61 188 61 178C61 168 61 158 62 150C64 140 70 134 74 126C77 118 76 108 82 102C88 97 98 98 106 95C112 90 114 82 115 73Z" fill="#c8721a"/>
<g clip-path="url(#cB)">
<g filter="url(#blur1)">
<circle cx="99.2" cy="109.8" r="12.6" fill="url(#bs)"/>
<circle cx="118.1" cy="229.6" r="12.9" fill="url(#bs)"/>
<circle cx="204.5" cy="201.7" r="13.6" fill="url(#bs)"/>
<circle cx="231.3" cy="98.5" r="11.9" fill="url(#bs)"/>
<circle cx="132.0" cy="159.0" r="13.3" fill="url(#bs)"/>
<circle cx="205.9" cy="189.2" r="11.6" fill="url(#bs)"/>
<circle cx="67.7" cy="53.3" r="12.4" fill="url(#bs)"/>
<circle cx="56.4" cy="143.8" r="14.1" fill="url(#bs)"/>
<circle cx="216.1" cy="22.7" r="10.7" fill="url(#bs)"/>
<circle cx="253.3" cy="193.1" r="11.5" fill="url(#bs)"/>
<circle cx="260.2" cy="72.7" r="12.4" fill="url(#bs)"/>
<circle cx="157.8" cy="68.5" r="12.2" fill="url(#bs)"/>
<circle cx="293.7" cy="19.2" r="14.3" fill="url(#bs)"/>
<circle cx="234.0" cy="54.2" r="13.8" fill="url(#bs)"/>
<circle cx="158.8" cy="131.8" r="11.7" fill="url(#bs)"/>
<circle cx="116.4" cy="68.2" r="13.4" fill="url(#bs)"/>
<circle cx="155.5" cy="43.7" r="12.6" fill="url(#bs)"/>
<circle cx="237.0" cy="178.8" r="14.6" fill="url(#bs)"/>
<circle cx="80.3" cy="34.9" r="12.6" fill="url(#bs)"/>
<circle cx="82.7" cy="250.6" r="10.7" fill="url(#bs)"/>
<circle cx="173.5" cy="142.7" r="10.6" fill="url(#bs)"/>
<circle cx="208.8" cy="118.5" r="14.6" fill="url(#bs)"/>
<circle cx="118.3" cy="142.4" r="14.7" fill="url(#bs)"/>
<circle cx="259.5" cy="38.2" r="10.4" fill="url(#bs)"/>
<circle cx="126.2" cy="50.0" r="11.9" fill="url(#bs)"/>
<circle cx="69.1" cy="35.2" r="12.8" fill="url(#bs)"/>
<circle cx="259.8" cy="141.2" r="10.4" fill="url(#bs)"/>
<circle cx="101.5" cy="69.8" r="10.0" fill="url(#bs)"/>
<circle cx="171.1" cy="251.0" r="13.5" fill="url(#bs)"/>
<circle cx="207.8" cy="159.8" r="12.1" fill="url(#bs)"/>
<circle cx="143.2" cy="113.9" r="10.4" fill="url(#bs)"/>
<circle cx="234.3" cy="144.4" r="12.8" fill="url(#bs)"/>
<circle cx="264.1" cy="163.8" r="11.4" fill="url(#bs)"/>
<circle cx="131.7" cy="191.9" r="14.4" fill="url(#bs)"/>
<circle cx="322.0" cy="235.9" r="13.5" fill="url(#bs)"/>
<circle cx="234.6" cy="73.2" r="11.1" fill="url(#bs)"/>
<circle cx="306.8" cy="155.0" r="13.4" fill="url(#bs)"/>
<circle cx="188.5" cy="217.7" r="12.2" fill="url(#bs)"/>
<circle cx="188.9" cy="173.8" r="11.5" fill="url(#bs)"/>
<circle cx="280.1" cy="233.6" r="12.6" fill="url(#bs)"/>
<circle cx="248.1" cy="69.4" r="14.2" fill="url(#bs)"/>
<circle cx="200.5" cy="42.2" r="13.7" fill="url(#bs)"/>
<circle cx="321.3" cy="247.6" r="11.1" fill="url(#bs)"/>
<circle cx="73.8" cy="132.3" r="12.0" fill="url(#bs)"/>
<circle cx="71.2" cy="96.9" r="14.3" fill="url(#bs)"/>
<circle cx="174.6" cy="110.3" r="11.5" fill="url(#bs)"/>
<circle cx="235.9" cy="193.4" r="11.7" fill="url(#bs)"/>
<circle cx="189.3" cy="100.6" r="14.6" fill="url(#bs)"/>
<circle cx="86.2" cy="25.7" r="11.7" fill="url(#bs)"/>
<circle cx="215.2" cy="67.1" r="14.8" fill="url(#bs)"/>
<circle cx="85.4" cy="64.2" r="14.7" fill="url(#bs)"/>
<circle cx="262.4" cy="248.4" r="12.2" fill="url(#bs)"/>
<circle cx="95.6" cy="155.7" r="13.7" fill="url(#bs)"/>
<circle cx="176.1" cy="234.6" r="12.7" fill="url(#bs)"/>
<circle cx="322.5" cy="159.6" r="12.5" fill="url(#bs)"/>
<circle cx="312.9" cy="43.5" r="12.8" fill="url(#bs)"/>
<circle cx="293.4" cy="200.3" r="12.1" fill="url(#bs)"/>
<circle cx="170.2" cy="67.2" r="13.7" fill="url(#bs)"/>
<circle cx="191.7" cy="199.6" r="10.8" fill="url(#bs)"/>
<circle cx="229.3" cy="35.1" r="11.5" fill="url(#bs)"/>
<circle cx="144.6" cy="205.4" r="14.7" fill="url(#bs)"/>
<circle cx="203.5" cy="217.2" r="13.1" fill="url(#bs)"/>
<circle cx="245.7" cy="25.5" r="13.1" fill="url(#bs)"/>
<circle cx="80.9" cy="190.9" r="13.8" fill="url(#bs)"/>
<circle cx="49.5" cy="221.1" r="10.6" fill="url(#bs)"/>
<circle cx="54.9" cy="81.0" r="11.7" fill="url(#bs)"/>
<circle cx="141.2" cy="222.7" r="12.5" fill="url(#bs)"/>
<circle cx="84.3" cy="208.5" r="13.2" fill="url(#bs)"/>
<circle cx="173.1" cy="58.7" r="10.0" fill="url(#bs)"/>
<circle cx="79.7" cy="148.1" r="10.7" fill="url(#bs)"/>
<circle cx="222.6" cy="118.3" r="10.1" fill="url(#bs)"/>
<circle cx="145.1" cy="28.7" r="14.9" fill="url(#bs)"/>
<circle cx="298.2" cy="169.2" r="12.6" fill="url(#bs)"/>
<circle cx="294.8" cy="155.6" r="14.7" fill="url(#bs)"/>
<circle cx="310.1" cy="80.2" r="13.8" fill="url(#bs)"/>
<circle cx="94.2" cy="99.4" r="11.3" fill="url(#bs)"/>
<circle cx="155.6" cy="102.6" r="14.3" fill="url(#bs)"/>
<circle cx="311.8" cy="127.4" r="14.0" fill="url(#bs)"/>
<circle cx="124.9" cy="251.9" r="13.7" fill="url(#bs)"/>
<circle cx="236.9" cy="129.4" r="10.4" fill="url(#bs)"/>
<circle cx="187.4" cy="116.0" r="14.7" fill="url(#bs)"/>
<circle cx="223.4" cy="97.6" r="13.9" fill="url(#bs)"/>
<circle cx="82.6" cy="53.3" r="12.3" fill="url(#bs)"/>
<circle cx="57.5" cy="158.7" r="11.0" fill="url(#bs)"/>
<circle cx="113.8" cy="88.8" r="11.6" fill="url(#bs)"/>
<circle cx="79.7" cy="217.9" r="12.3" fill="url(#bs)"/>
<circle cx="249.7" cy="84.5" r="11.7" fill="url(#bs)"/>
<circle cx="233.9" cy="114.9" r="13.4" fill="url(#bs)"/>
<circle cx="281.3" cy="26.8" r="10.6" fill="url(#bs)"/>
<circle cx="173.3" cy="174.6" r="14.7" fill="url(#bs)"/>
<circle cx="307.4" cy="176.9" r="13.1" fill="url(#bs)"/>
<circle cx="207.4" cy="174.0" r="11.7" fill="url(#bs)"/>
<circle cx="175.1" cy="99.4" r="13.7" fill="url(#bs)"/>
<circle cx="280.7" cy="221.4" r="11.5" fill="url(#bs)"/>
<circle cx="251.3" cy="103.4" r="12.5" fill="url(#bs)"/>
<circle cx="64.3" cy="114.7" r="14.9" fill="url(#bs)"/>
<circle cx="203.7" cy="247.1" r="12.2" fill="url(#bs)"/>
<circle cx="169.2" cy="185.6" r="14.0" fill="url(#bs)"/>
<circle cx="125.4" cy="146.1" r="14.7" fill="url(#bs)"/>
<circle cx="217.3" cy="131.3" r="13.4" fill="url(#bs)"/>
<circle cx="276.6" cy="35.1" r="14.6" fill="url(#bs)"/>
<circle cx="128.3" cy="205.9" r="13.8" fill="url(#bs)"/>
<circle cx="95.1" cy="223.5" r="14.3" fill="url(#bs)"/>
<circle cx="221.1" cy="35.6" r="12.7" fill="url(#bs)"/>
<circle cx="96.1" cy="147.8" r="14.8" fill="url(#bs)"/>
<circle cx="233.6" cy="218.7" r="14.4" fill="url(#bs)"/>
<circle cx="187.4" cy="252.8" r="11.1" fill="url(#bs)"/>
<circle cx="282.6" cy="53.0" r="11.4" fill="url(#bs)"/>
<circle cx="186.3" cy="190.5" r="13.9" fill="url(#bs)"/>
<circle cx="298.6" cy="109.2" r="10.2" fill="url(#bs)"/>
<circle cx="202.2" cy="236.3" r="14.8" fill="url(#bs)"/>
<circle cx="64.5" cy="218.7" r="10.1" fill="url(#bs)"/>
<circle cx="141.6" cy="248.9" r="13.5" fill="url(#bs)"/>
<circle cx="176.2" cy="83.3" r="13.1" fill="url(#bs)"/>
<circle cx="248.3" cy="200.1" r="12.4" fill="url(#bs)"/>
<circle cx="305.0" cy="99.7" r="10.6" fill="url(#bs)"/>
<circle cx="141.3" cy="177.3" r="14.0" fill="url(#bs)"/>
<circle cx="52.0" cy="56.4" r="11.3" fill="url(#bs)"/>
<circle cx="133.8" cy="215.2" r="11.5" fill="url(#bs)"/>
<circle cx="283.5" cy="95.1" r="14.7" fill="url(#bs)"/>
<circle cx="281.7" cy="187.3" r="11.4" fill="url(#bs)"/>
<circle cx="221.5" cy="80.0" r="11.5" fill="url(#bs)"/>
<circle cx="163.0" cy="201.5" r="12.7" fill="url(#bs)"/>
<circle cx="54.5" cy="20.0" r="14.5" fill="url(#bs)"/>
<circle cx="67.6" cy="249.4" r="10.1" fill="url(#bs)"/>
<circle cx="128.5" cy="126.3" r="14.4" fill="url(#bs)"/>
<circle cx="186.7" cy="148.4" r="10.4" fill="url(#bs)"/>
<circle cx="131.0" cy="81.3" r="11.3" fill="url(#bs)"/>
<circle cx="251.6" cy="126.4" r="11.1" fill="url(#bs)"/>
<circle cx="184.7" cy="65.2" r="14.2" fill="url(#bs)"/>
<circle cx="146.3" cy="84.7" r="11.3" fill="url(#bs)"/>
<circle cx="158.9" cy="114.6" r="14.9" fill="url(#bs)"/>
<circle cx="94.5" cy="57.4" r="10.3" fill="url(#bs)"/>
<circle cx="81.6" cy="235.1" r="11.1" fill="url(#bs)"/>
<circle cx="244.5" cy="49.9" r="11.3" fill="url(#bs)"/>
<circle cx="292.3" cy="38.9" r="13.3" fill="url(#bs)"/>
<circle cx="216.7" cy="185.9" r="13.2" fill="url(#bs)"/>
<circle cx="268.8" cy="221.9" r="12.0" fill="url(#bs)"/>
<circle cx="154.3" cy="252.2" r="14.3" fill="url(#bs)"/>
<circle cx="114.3" cy="54.5" r="12.0" fill="url(#bs)"/>
<circle cx="312.6" cy="189.4" r="12.4" fill="url(#bs)"/>
<circle cx="103.9" cy="190.2" r="10.6" fill="url(#bs)"/>
<circle cx="179.0" cy="204.3" r="10.9" fill="url(#bs)"/>
<circle cx="189.9" cy="58.6" r="11.8" fill="url(#bs)"/>
<circle cx="147.5" cy="35.0" r="14.3" fill="url(#bs)"/>
<circle cx="310.7" cy="218.4" r="13.3" fill="url(#bs)"/>
<circle cx="73.4" cy="163.8" r="10.1" fill="url(#bs)"/>
<circle cx="161.5" cy="53.9" r="10.0" fill="url(#bs)"/>
<circle cx="64.0" cy="174.0" r="11.3" fill="url(#bs)"/>
<circle cx="58.8" cy="232.4" r="13.6" fill="url(#bs)"/>
<circle cx="200.8" cy="142.5" r="10.2" fill="url(#bs)"/>
<circle cx="322.5" cy="24.4" r="12.7" fill="url(#bs)"/>
<circle cx="295.8" cy="49.9" r="14.9" fill="url(#bs)"/>
<circle cx="327.2" cy="56.9" r="13.2" fill="url(#bs)"/>
<circle cx="157.0" cy="154.4" r="11.3" fill="url(#bs)"/>
<circle cx="115.3" cy="23.7" r="11.8" fill="url(#bs)"/>
<circle cx="113.7" cy="208.6" r="10.6" fill="url(#bs)"/>
<circle cx="203.6" cy="83.9" r="11.2" fill="url(#bs)"/>
<circle cx="309.7" cy="141.9" r="14.0" fill="url(#bs)"/>
<circle cx="86.6" cy="158.0" r="10.3" fill="url(#bs)"/>
<circle cx="312.3" cy="52.3" r="11.6" fill="url(#bs)"/>
<circle cx="144.9" cy="236.1" r="13.8" fill="url(#bs)"/>
<circle cx="268.5" cy="207.9" r="10.3" fill="url(#bs)"/>
<circle cx="328.1" cy="178.3" r="13.2" fill="url(#bs)"/>
<circle cx="313.4" cy="28.0" r="10.1" fill="url(#bs)"/>
<circle cx="142.1" cy="53.8" r="11.2" fill="url(#bs)"/>
<circle cx="132.2" cy="237.4" r="12.0" fill="url(#bs)"/>
<circle cx="266.4" cy="21.5" r="14.1" fill="url(#bs)"/>
<circle cx="328.7" cy="143.6" r="13.0" fill="url(#bs)"/>
<circle cx="64.7" cy="199.5" r="11.8" fill="url(#bs)"/>
<circle cx="322.8" cy="126.9" r="13.0" fill="url(#bs)"/>
<circle cx="295.6" cy="94.7" r="14.5" fill="url(#bs)"/>
<circle cx="200.8" cy="126.3" r="11.5" fill="url(#bs)"/>
<circle cx="49.6" cy="115.7" r="10.3" fill="url(#bs)"/>
<circle cx="175.2" cy="157.7" r="12.4" fill="url(#bs)"/>
<circle cx="217.1" cy="140.8" r="10.6" fill="url(#bs)"/>
<circle cx="267.1" cy="233.2" r="10.7" fill="url(#bs)"/>
<circle cx="324.0" cy="43.0" r="12.0" fill="url(#bs)"/>
<circle cx="103.0" cy="28.5" r="10.1" fill="url(#bs)"/>
<circle cx="115.4" cy="178.7" r="11.4" fill="url(#bs)"/>
<circle cx="84.7" cy="175.3" r="12.3" fill="url(#bs)"/>
<circle cx="128.4" cy="169.8" r="14.0" fill="url(#bs)"/>
<circle cx="282.1" cy="80.0" r="13.9" fill="url(#bs)"/>
<circle cx="324.8" cy="116.6" r="14.0" fill="url(#bs)"/>
<circle cx="310.9" cy="67.9" r="13.9" fill="url(#bs)"/>
<circle cx="184.7" cy="23.6" r="12.0" fill="url(#bs)"/>
<circle cx="102.4" cy="82.6" r="12.9" fill="url(#bs)"/>
<circle cx="73.8" cy="192.7" r="11.6" fill="url(#bs)"/>
<circle cx="312.3" cy="115.9" r="12.6" fill="url(#bs)"/>
<circle cx="264.7" cy="97.5" r="11.2" fill="url(#bs)"/>
<circle cx="158.1" cy="218.0" r="14.4" fill="url(#bs)"/>
<circle cx="189.6" cy="88.8" r="14.5" fill="url(#bs)"/>
<circle cx="98.1" cy="203.1" r="11.2" fill="url(#bs)"/>
<circle cx="146.8" cy="68.4" r="13.8" fill="url(#bs)"/>
<circle cx="193.6" cy="38.1" r="10.1" fill="url(#bs)"/>
<circle cx="50.1" cy="41.9" r="11.5" fill="url(#bs)"/>
<circle cx="218.1" cy="217.0" r="13.9" fill="url(#bs)"/>
<circle cx="277.1" cy="146.6" r="14.6" fill="url(#bs)"/>
<circle cx="277.6" cy="133.1" r="15.0" fill="url(#bs)"/>
<circle cx="70.2" cy="69.5" r="14.6" fill="url(#bs)"/>
<circle cx="171.4" cy="130.5" r="11.3" fill="url(#bs)"/>
<circle cx="274.7" cy="201.7" r="13.5" fill="url(#bs)"/>
<circle cx="141.8" cy="99.1" r="14.4" fill="url(#bs)"/>
<circle cx="113.1" cy="34.5" r="11.1" fill="url(#bs)"/>
<circle cx="144.7" cy="193.4" r="13.2" fill="url(#bs)"/>
<circle cx="58.2" cy="174.1" r="11.9" fill="url(#bs)"/>
<circle cx="55.9" cy="97.6" r="14.8" fill="url(#bs)"/>
<circle cx="309.7" cy="206.4" r="12.0" fill="url(#bs)"/>
<circle cx="110.8" cy="114.3" r="11.8" fill="url(#bs)"/>
<circle cx="111.1" cy="154.2" r="11.1" fill="url(#bs)"/>
<circle cx="189.2" cy="126.5" r="14.4" fill="url(#bs)"/>
<circle cx="324.8" cy="88.0" r="14.6" fill="url(#bs)"/>
<circle cx="282.3" cy="253.2" r="13.4" fill="url(#bs)"/>
<circle cx="98.0" cy="238.9" r="11.0" fill="url(#bs)"/>
<circle cx="295.7" cy="73.3" r="12.5" fill="url(#bs)"/>
<circle cx="85.9" cy="117.6" r="13.9" fill="url(#bs)"/>
<circle cx="321.3" cy="221.7" r="12.7" fill="url(#bs)"/>
<circle cx="216.7" cy="234.7" r="12.6" fill="url(#bs)"/>
<circle cx="250.9" cy="177.0" r="13.6" fill="url(#bs)"/>
<circle cx="298.9" cy="234.7" r="14.8" fill="url(#bs)"/>
<circle cx="64.2" cy="233.2" r="13.8" fill="url(#bs)"/>
<circle cx="128.8" cy="96.7" r="11.4" fill="url(#bs)"/>
<circle cx="65.6" cy="82.5" r="13.0" fill="url(#bs)"/>
<circle cx="320.1" cy="71.4" r="10.8" fill="url(#bs)"/>
<circle cx="128.6" cy="22.2" r="13.4" fill="url(#bs)"/>
<circle cx="274.3" cy="68.3" r="11.9" fill="url(#bs)"/>
<circle cx="248.5" cy="217.8" r="14.5" fill="url(#bs)"/>
<circle cx="158.9" cy="187.8" r="11.8" fill="url(#bs)"/>
<circle cx="54.8" cy="201.4" r="11.6" fill="url(#bs)"/>
<circle cx="282.1" cy="172.0" r="11.2" fill="url(#bs)"/>
<circle cx="216.0" cy="171.2" r="14.2" fill="url(#bs)"/>
<circle cx="101.7" cy="126.6" r="12.9" fill="url(#bs)"/>
<circle cx="252.9" cy="235.6" r="11.4" fill="url(#bs)"/>
<circle cx="82.4" cy="127.5" r="10.1" fill="url(#bs)"/>
<circle cx="325.5" cy="205.8" r="13.1" fill="url(#bs)"/>
<circle cx="129.0" cy="111.0" r="13.5" fill="url(#bs)"/>
<circle cx="205.7" cy="69.5" r="10.6" fill="url(#bs)"/>
<circle cx="274.3" cy="110.1" r="14.3" fill="url(#bs)"/>
<circle cx="291.2" cy="81.0" r="12.7" fill="url(#bs)"/>
<circle cx="111.9" cy="96.5" r="10.7" fill="url(#bs)"/>
<circle cx="49.6" cy="190.7" r="10.5" fill="url(#bs)"/>
<circle cx="206.8" cy="96.6" r="10.3" fill="url(#bs)"/>
<circle cx="133.8" cy="73.2" r="10.4" fill="url(#bs)"/>
<circle cx="259.9" cy="114.2" r="14.8" fill="url(#bs)"/>
<circle cx="238.1" cy="156.3" r="14.7" fill="url(#bs)"/>
<circle cx="143.7" cy="155.8" r="10.1" fill="url(#bs)"/>
<circle cx="290.7" cy="247.6" r="13.5" fill="url(#bs)"/>
<circle cx="294.0" cy="140.6" r="11.7" fill="url(#bs)"/>
<circle cx="267.1" cy="177.0" r="10.9" fill="url(#bs)"/>
<circle cx="171.6" cy="221.9" r="13.5" fill="url(#bs)"/>
<circle cx="268.5" cy="190.2" r="14.8" fill="url(#bs)"/>
<circle cx="94.9" cy="174.0" r="12.4" fill="url(#bs)"/>
<circle cx="294.2" cy="188.9" r="10.2" fill="url(#bs)"/>
<circle cx="326.4" cy="186.5" r="11.0" fill="url(#bs)"/>
<circle cx="57.3" cy="247.8" r="11.4" fill="url(#bs)"/>
<circle cx="162.8" cy="146.3" r="14.7" fill="url(#bs)"/>
<circle cx="86.3" cy="96.6" r="11.2" fill="url(#bs)"/>
<circle cx="235.5" cy="206.1" r="12.3" fill="url(#bs)"/>
<circle cx="220.1" cy="54.9" r="11.6" fill="url(#bs)"/>
<circle cx="154.6" cy="87.2" r="11.9" fill="url(#bs)"/>
<circle cx="49.6" cy="71.6" r="10.2" fill="url(#bs)"/>
<circle cx="296.2" cy="223.5" r="13.3" fill="url(#bs)"/>
<circle cx="114.3" cy="127.4" r="13.4" fill="url(#bs)"/>
<circle cx="237.5" cy="79.4" r="13.5" fill="url(#bs)"/>
<circle cx="111.5" cy="245.8" r="10.6" fill="url(#bs)"/>
<circle cx="140.9" cy="140.4" r="13.4" fill="url(#bs)"/>
<circle cx="275.7" cy="161.2" r="11.2" fill="url(#bs)"/>
<circle cx="175.5" cy="26.0" r="15.0" fill="url(#bs)"/>
<circle cx="163.9" cy="23.0" r="14.1" fill="url(#bs)"/>
<circle cx="49.0" cy="124.7" r="14.0" fill="url(#bs)"/>
<circle cx="64.1" cy="144.0" r="11.9" fill="url(#bs)"/>
<circle cx="292.9" cy="125.4" r="13.9" fill="url(#bs)"/>
<circle cx="193.9" cy="230.4" r="13.9" fill="url(#bs)"/>
<circle cx="64.9" cy="22.6" r="11.9" fill="url(#bs)"/>
<circle cx="252.5" cy="162.8" r="10.8" fill="url(#bs)"/>
<circle cx="250.1" cy="115.1" r="14.7" fill="url(#bs)"/>
<circle cx="219.4" cy="158.6" r="11.7" fill="url(#bs)"/>
<circle cx="97.1" cy="252.7" r="14.7" fill="url(#bs)"/>
<circle cx="328.9" cy="97.1" r="14.4" fill="url(#bs)"/>
<circle cx="263.1" cy="133.9" r="11.9" fill="url(#bs)"/>
<circle cx="221.3" cy="202.2" r="13.8" fill="url(#bs)"/>
<circle cx="173.1" cy="40.1" r="14.3" fill="url(#bs)"/>
<circle cx="238.9" cy="246.2" r="11.1" fill="url(#bs)"/>
<circle cx="84.2" cy="82.9" r="12.9" fill="url(#bs)"/>
<circle cx="222.1" cy="249.7" r="13.0" fill="url(#bs)"/>
<circle cx="140.8" cy="125.5" r="11.3" fill="url(#bs)"/>
<circle cx="307.5" cy="236.6" r="10.4" fill="url(#bs)"/>
<circle cx="260.5" cy="88.5" r="13.8" fill="url(#bs)"/>
<circle cx="205.6" cy="21.2" r="14.9" fill="url(#bs)"/>
<circle cx="116.3" cy="184.6" r="14.3" fill="url(#bs)"/>
<circle cx="261.7" cy="57.0" r="12.1" fill="url(#bs)"/>
<circle cx="306.2" cy="252.8" r="14.4" fill="url(#bs)"/>
<circle cx="156.5" cy="178.0" r="12.5" fill="url(#bs)"/>
<circle cx="161.5" cy="234.8" r="11.3" fill="url(#bs)"/>
<circle cx="113.9" cy="219.9" r="11.6" fill="url(#bs)"/>
<circle cx="190.2" cy="157.2" r="11.8" fill="url(#bs)"/>
<circle cx="96.9" cy="41.8" r="11.2" fill="url(#bs)"/>
<circle cx="251.6" cy="144.3" r="14.7" fill="url(#bs)"/>
<circle cx="205.0" cy="52.7" r="11.5" fill="url(#bs)"/>
<circle cx="232.9" cy="26.4" r="10.4" fill="url(#bs)"/>
<circle cx="250.2" cy="245.5" r="14.8" fill="url(#bs)"/>
<circle cx="234.0" cy="230.7" r="13.1" fill="url(#bs)"/>
<circle cx="253.7" cy="40.4" r="14.2" fill="url(#bs)"/>
<circle cx="128.5" cy="39.6" r="12.3" fill="url(#bs)"/>
</g>
<path d="M115 73C114 66 115 60 119 57C125 54 131 55 136 52C140 47 142 41 148 38C154 35 163 35 169 38C175 42 178 49 185 53C190 56 196 57 200 55L232 50C238 44 246 40 256 38C268 37 280 40 292 42C304 42 320 38 336 36L336 134C328 136 318 138 312 142C306 150 301 166 302 178C303 190 307 202 307 214C307 228 300 238 290 242C280 246 268 245 262 238C258 232 256 226 248 223C236 220 220 220 204 221C188 222 172 222 164 224C158 226 156 230 154 226C151 220 146 216 142 218C137 222 136 240 137 250.5L83.5 250.5C83.5 240 83 232 81 226C77 219 72 212 68 204C63 196 61 188 61 178C61 168 61 158 62 150C64 140 70 134 74 126C77 118 76 108 82 102C88 97 98 98 106 95C112 90 114 82 115 73Z" fill="none" stroke="#8a4606" stroke-width="6" opacity="0.3" filter="url(#blur3)"/>
<path d="M116 76C122 84 134 90 150 92C166 93 182 88 196 78" fill="none" stroke="#5a2800" stroke-width="5" stroke-linecap="round" opacity="0.55" filter="url(#blur2)"/>
<path d="M186 62C196 66 206 66 214 64C224 62 232 66 238 72" fill="none" stroke="#5a2800" stroke-width="4" stroke-linecap="round" opacity="0.45" filter="url(#blur2)"/>
<path d="M190 88C194 100 192 116 196 128" fill="none" stroke="#5a2800" stroke-width="3" stroke-linecap="round" opacity="0.35" filter="url(#blur2)"/>
<path d="M228 98C236 104 246 106 258 104C270 102 282 106 292 112" fill="none" stroke="#5a2800" stroke-width="4" stroke-linecap="round" opacity="0.4" filter="url(#blur2)"/>
<path d="M84 160C92 170 100 174 112 172" fill="none" stroke="#5a2800" stroke-width="3.5" stroke-linecap="round" opacity="0.4" filter="url(#blur2)"/>
<path d="M96 196C106 204 118 206 128 204" fill="none" stroke="#5a2800" stroke-width="3.5" stroke-linecap="round" opacity="0.4" filter="url(#blur2)"/>
<path d="M168 204C178 200 192 200 204 206C216 212 230 214 244 210" fill="none" stroke="#5a2800" stroke-width="4" stroke-linecap="round" opacity="0.4" filter="url(#blur2)"/>
<path d="M262 200C272 206 284 206 296 200" fill="none" stroke="#5a2800" stroke-width="3.5" stroke-linecap="round" opacity="0.4" filter="url(#blur2)"/>
<path d="M300 118C296 132 298 146 304 156" fill="none" stroke="#5a2800" stroke-width="3.5" stroke-linecap="round" opacity="0.35" filter="url(#blur2)"/>
<path d="M120 218C130 222 140 222 150 216" fill="none" stroke="#5a2800" stroke-width="3" stroke-linecap="round" opacity="0.35" filter="url(#blur2)"/>
<path d="M246 60C256 66 268 66 280 62" fill="none" stroke="#5a2800" stroke-width="3" stroke-linecap="round" opacity="0.35" filter="url(#blur2)"/>
<ellipse cx="150" cy="90" rx="14" ry="8" fill="url(#sh)"/>
<ellipse cx="176" cy="88" rx="12" ry="8" fill="url(#sh)"/>
<ellipse cx="124" cy="82" rx="8" ry="8" fill="url(#sh)"/>
<ellipse cx="204" cy="70" rx="10" ry="8" fill="url(#sh)"/>
<ellipse cx="232" cy="98" rx="9" ry="9" fill="url(#sh)"/>
<ellipse cx="262" cy="102" rx="10" ry="8" fill="url(#sh)"/>
<ellipse cx="292" cy="112" rx="9" ry="10" fill="url(#sh)"/>
<ellipse cx="92" cy="178" rx="8" ry="7" fill="url(#sh)"/>
<ellipse cx="108" cy="204" rx="10" ry="8" fill="url(#sh)"/>
<ellipse cx="152" cy="216" rx="8" ry="8" fill="url(#sh)"/>
<ellipse cx="232" cy="216" rx="10" ry="8" fill="url(#sh)"/>
<ellipse cx="276" cy="204" rx="9" ry="7" fill="url(#sh)"/>
<ellipse cx="300" cy="150" rx="7" ry="10" fill="url(#sh)"/>
<ellipse cx="196" cy="146" rx="8" ry="8" fill="url(#sh)"/>
<ellipse cx="255" cy="62" rx="9" ry="7" fill="url(#sh)"/>
<ellipse cx="300" cy="72" rx="8" ry="8" fill="url(#sh)"/>
<ellipse cx="175" cy="112" rx="7" ry="7" fill="url(#sh)"/>
<ellipse cx="190" cy="185" rx="7" ry="7" fill="url(#sh)"/>
<ellipse cx="262" cy="226" rx="9" ry="8" fill="url(#sh)"/>
<ellipse cx="134" cy="210" rx="8" ry="8" fill="url(#sh)"/>
<ellipse cx="70" cy="200" rx="6" ry="10" fill="url(#sh)"/>
<ellipse cx="225" cy="125" rx="8" ry="8" fill="url(#sh)"/>
<ellipse cx="285" cy="80" rx="8" ry="8" fill="url(#sh)"/>
</g>
<ellipse cx="152" cy="130" rx="36" ry="44" fill="url(#pl)" transform="rotate(10 152 130)"/>
<ellipse cx="208" cy="108" rx="16" ry="22" fill="url(#pl)" transform="rotate(-13 208 108)"/>
<ellipse cx="218" cy="162" rx="30" ry="16" fill="url(#pl)" transform="rotate(-16 218 162)"/>
<ellipse cx="95" cy="116" rx="20" ry="18" fill="url(#pl)" transform="rotate(0 95 116)"/>
</g>
<g stroke="#8c8c94" stroke-width="1.6" stroke-linecap="round">
<line x1="108.6" y1="113.3" x2="113" y2="110.5"/>
<line x1="113" y1="110.5" x2="119" y2="110.7"/>
<line x1="121.7" y1="101.4" x2="119" y2="110.7"/>
<line x1="119" y1="110.7" x2="125.6" y2="117.8"/>
<line x1="125.6" y1="117.8" x2="128.2" y2="121.7"/>
<line x1="128.2" y1="121.7" x2="136" y2="120.4"/>
<line x1="136" y1="120.4" x2="142.5" y2="113.3"/>
<line x1="136" y1="120.4" x2="140.4" y2="120.4"/>
<line x1="140.4" y1="120.4" x2="146.4" y2="127.7"/>
<line x1="146.4" y1="127.7" x2="155.5" y2="126.9"/>
<line x1="155.5" y1="126.9" x2="158.1" y2="130.8"/>
<line x1="158.1" y1="130.8" x2="155" y2="136"/>
<line x1="158.1" y1="130.8" x2="166" y2="127.5"/>
<line x1="166" y1="127.5" x2="169.8" y2="126.9"/>
<line x1="169.8" y1="126.9" x2="172.4" y2="129.5"/>
<line x1="128.2" y1="121.7" x2="130.8" y2="134.7"/>
<line x1="130.8" y1="134.7" x2="129.5" y2="142.5"/>
<line x1="129.5" y1="142.5" x2="128.2" y2="149.8"/>
<line x1="119" y1="149.8" x2="128.2" y2="149.8"/>
<line x1="128.2" y1="149.8" x2="134.7" y2="151.6"/>
<line x1="134.7" y1="151.6" x2="142.5" y2="154.2"/>
<line x1="142.5" y1="154.2" x2="149" y2="156.8"/>
<line x1="149" y1="156.8" x2="158.1" y2="155.5"/>
<line x1="142.5" y1="154.2" x2="133.4" y2="165.9"/>
<line x1="149" y1="156.8" x2="146.4" y2="168.5"/>
<line x1="133.4" y1="165.9" x2="138.6" y2="171.1"/>
<line x1="138.6" y1="171.1" x2="146.4" y2="168.5"/>
<line x1="146.4" y1="168.5" x2="151.6" y2="171.1"/>
<line x1="138.6" y1="171.1" x2="143.8" y2="179"/>
<line x1="143.8" y1="179" x2="137.3" y2="186.8"/>
<line x1="137.3" y1="186.8" x2="132" y2="184.2"/>
<line x1="143.8" y1="179" x2="145.1" y2="185.5"/>
<line x1="145.1" y1="185.5" x2="146.4" y2="192"/>
<line x1="146.4" y1="192" x2="143.8" y2="205"/>
</g>
<circle cx="108.6" cy="113.3" r="2.9" fill="url(#ball)"/>
<circle cx="113" cy="110.5" r="2.9" fill="url(#ball)"/>
<circle cx="121.7" cy="101.4" r="2.9" fill="url(#ball)"/>
<circle cx="119" cy="110.7" r="2.9" fill="url(#ball)"/>
<circle cx="125.6" cy="117.8" r="2.9" fill="url(#ball)"/>
<circle cx="128.2" cy="121.7" r="2.9" fill="url(#ball)"/>
<circle cx="136" cy="120.4" r="2.9" fill="url(#ball)"/>
<circle cx="142.5" cy="113.3" r="2.5" fill="url(#ballr)"/>
<circle cx="140.4" cy="120.4" r="2.9" fill="url(#ball)"/>
<circle cx="146.4" cy="127.7" r="2.5" fill="url(#ballb)"/>
<circle cx="155.5" cy="126.9" r="2.9" fill="url(#ball)"/>
<circle cx="158.1" cy="130.8" r="2.9" fill="url(#ball)"/>
<circle cx="155" cy="136" r="2.5" fill="url(#ballr)"/>
<circle cx="166" cy="127.5" r="2.5" fill="url(#ballr)"/>
<circle cx="169.8" cy="126.9" r="2.5" fill="url(#ballr)"/>
<circle cx="172.4" cy="129.5" r="1.6" fill="url(#ballw)"/>
<circle cx="130.8" cy="134.7" r="2.5" fill="url(#ballb)"/>
<circle cx="129.5" cy="142.5" r="2.9" fill="url(#ball)"/>
<circle cx="119" cy="149.8" r="2.9" fill="url(#ball)"/>
<circle cx="128.2" cy="149.8" r="2.9" fill="url(#ball)"/>
<circle cx="134.7" cy="151.6" r="2.5" fill="url(#ballb)"/>
<circle cx="142.5" cy="154.2" r="2.9" fill="url(#ball)"/>
<circle cx="149" cy="156.8" r="2.9" fill="url(#ball)"/>
<circle cx="158.1" cy="155.5" r="2.9" fill="url(#ball)"/>
<circle cx="133.4" cy="165.9" r="2.5" fill="url(#ballr)"/>
<circle cx="138.6" cy="171.1" r="2.9" fill="url(#ball)"/>
<circle cx="146.4" cy="168.5" r="2.5" fill="url(#ballb)"/>
<circle cx="151.6" cy="171.1" r="1.6" fill="url(#ballw)"/>
<circle cx="143.8" cy="179" r="2.9" fill="url(#ball)"/>
<circle cx="137.3" cy="186.8" r="2.5" fill="url(#ballb)"/>
<circle cx="132" cy="184.2" r="1.6" fill="url(#ballw)"/>
<circle cx="145.1" cy="185.5" r="2.9" fill="url(#ball)"/>
<circle cx="146.4" cy="192" r="2.9" fill="url(#ball)"/>
<circle cx="143.8" cy="205" r="2.9" fill="url(#ball)"/>
<g fill="none" stroke-linecap="round" stroke-linejoin="round">
<path d="M241.8 131.7L234.5 131.7L229.5 137.3L231.7 143.5L239 144L242.9 141.8Z M241.8 131.7L248.5 130.6L251.3 136.2L247.4 141.8L242.9 141.8 M239 144L237.9 151.8L237.3 157.4L241.8 160.8L251.8 159.1L256.3 158 M241.8 160.8L238.4 165.8" stroke="#8a1890" stroke-width="3.2"/>
<path d="M241.8 131.7L234.5 131.7L229.5 137.3L231.7 143.5L239 144L242.9 141.8Z M241.8 131.7L248.5 130.6L251.3 136.2L247.4 141.8L242.9 141.8 M239 144L237.9 151.8L237.3 157.4L241.8 160.8L251.8 159.1L256.3 158 M241.8 160.8L238.4 165.8" stroke="#cc3ccc" stroke-width="2.2"/>
<path d="M241.8 131.7L234.5 131.7L229.5 137.3L231.7 143.5L239 144L242.9 141.8Z M241.8 131.7L248.5 130.6L251.3 136.2L247.4 141.8L242.9 141.8 M239 144L237.9 151.8L237.3 157.4L241.8 160.8L251.8 159.1L256.3 158 M241.8 160.8L238.4 165.8" stroke="#ee88ee" stroke-width="0.8" opacity="0.7"/>
<path d="M254.6 150.2L258.5 144.6L267.5 144L271.9 149.6L268 155.7L259.1 156.3Z M258.5 144.6L261.9 137.3L267.5 129.5 M268 155.7L266.3 161.9" stroke="#181870" stroke-width="3.2"/>
<path d="M254.6 150.2L258.5 144.6L267.5 144L271.9 149.6L268 155.7L259.1 156.3Z M258.5 144.6L261.9 137.3L267.5 129.5 M268 155.7L266.3 161.9" stroke="#3a3ab8" stroke-width="2.2"/>
<path d="M254.6 150.2L258.5 144.6L267.5 144L271.9 149.6L268 155.7L259.1 156.3Z M258.5 144.6L261.9 137.3L267.5 129.5 M268 155.7L266.3 161.9" stroke="#7a80e8" stroke-width="0.8" opacity="0.7"/>
<path d="M266.3 161.9L266.8 163.5" stroke="#222" stroke-width="2.4"/>
<circle cx="238.4" cy="165.8" r="2" fill="#4848c0"/>
<path d="M265.5 131L267.5 129.5" stroke="#c040a0" stroke-width="2.4"/>
</g>
<rect x="53.5" y="18.5" width="281.5" height="232.0" fill="none" stroke="#5a5a5a" stroke-width="1"/>
<g fill="none" stroke="#f8f1de" stroke-width="2">
<ellipse cx="134" cy="150.8" rx="49.8" ry="66.6" transform="rotate(23 134 150.8)"/>
<ellipse cx="208.4" cy="104.9" rx="19.5" ry="25.3" transform="rotate(-13.4 208.4 104.9)"/>
<ellipse cx="238" cy="153.5" rx="57.4" ry="23.3" transform="rotate(-16.4 238 153.5)"/>
</g>
<g stroke="#fbf6ea" stroke-width="1.4" fill="#fbf6ea" stroke-linejoin="round">
<line x1="73.4" y1="95.3" x2="92.9" y2="108.4"/>
<path d="M97.5 111.5L91.5 110.6L94.4 106.3Z" stroke-width="0.6"/>
<line x1="213.5" y1="57.5" x2="208.4" y2="73.3"/>
<path d="M206.7 78.5L205.9 72.5L210.9 74.1Z" stroke-width="0.6"/>
<line x1="315.5" y1="80.5" x2="287.6" y2="122.4"/>
<path d="M284.5 127L285.4 121.0L289.7 123.9Z" stroke-width="0.6"/>
<line x1="188" y1="228.5" x2="156.0" y2="188.4"/>
<path d="M152.6 184.1L158.1 186.8L154.0 190.0Z" stroke-width="0.6"/>
</g>
<path d="M242.1 185.5V175.7H239.2L245.0 169.6L250.8 175.7H247.9V185.5Z" fill="url(#arr)" stroke="#1c2c44" stroke-width="0.9"/>
<path d="M263.70000000000005 185.5V175.7H260.8L266.6 169.6L272.40000000000003 175.7H269.5V185.5Z" fill="url(#arr)" stroke="#1c2c44" stroke-width="0.9"/>
<rect x="44.8" y="73.1" width="56.8" height="21.60000000000001" fill="#fff" stroke="#4a4a9c" stroke-width="1.5"/>
<text x="73.20" y="87.68" font-size="10.5" font-weight="bold" fill="#111" text-anchor="middle">Cavity1</text>
<rect x="192.8" y="37.8" width="47.0" height="19.200000000000003" fill="#fff" stroke="#4a4a9c" stroke-width="1.5"/>
<text x="216.30" y="51.18" font-size="10.5" font-weight="bold" fill="#111" text-anchor="middle">Cavity2</text>
<rect x="290.0" y="59.6" width="52.60000000000002" height="20.199999999999996" fill="#fff" stroke="#4a4a9c" stroke-width="1.5"/>
<text x="316.30" y="73.48" font-size="10.5" font-weight="bold" fill="#111" text-anchor="middle">Cavity3</text>
<rect x="58.9" y="230" width="36.199999999999996" height="14.800000000000011" fill="#fff" stroke="#454545" stroke-width="1.1"/>
<text x="75.60" y="240.75" font-size="9.3" font-weight="bold" fill="#111" text-anchor="middle">CDK2</text>
<rect x="167.2" y="229.6" width="40.5" height="14.200000000000017" fill="#fff" stroke="#454545" stroke-width="1.1"/>
<text x="185.95" y="240.01" font-size="9.2" font-weight="bold" fill="#111" text-anchor="middle">LAALS</text>
<rect x="201.1" y="186" width="52.900000000000006" height="13.400000000000006" fill="#fff" stroke="#666" stroke-width="0.8"/>
<text x="227.55" y="195.72" font-size="8.4" font-weight="bold" fill="#1a1a2a" text-anchor="middle" textLength="45.5" lengthAdjust="spacingAndGlyphs">CycE:Trp95</text>
<rect x="257.9" y="186" width="58.400000000000034" height="13.400000000000006" fill="#fff" stroke="#666" stroke-width="0.8"/>
<text x="287.10" y="195.72" font-size="8.4" font-weight="bold" fill="#1a1a2a" text-anchor="middle" textLength="50.5" lengthAdjust="spacingAndGlyphs">CycA:Tyr178</text>
<g font-size="20" fill="#111">
<text x="22.6" y="14.7">A)</text>
<text x="8.3" y="270.7">B)</text>
<text x="420.9" y="14.6">C)</text>
<text x="426.3" y="270.9">D)</text>
</g>
<g>
<path d="M479.5 40.5V27.5H773.8V40.5" fill="none" stroke="#3a3a3a" stroke-width="1"/>
<text x="583.2" y="22" font-size="13.7" fill="#1a1a1a">1<tspan font-size="8.6" dy="-5.2">st</tspan><tspan dy="5.2" x="600.6">Generation</tspan></text>
<path d="M470.3 42.400000000000006V226.6H779.0" fill="none" stroke="#8a8a8a" stroke-width="1"/>
<path d="M467.3 226.60H470.3" stroke="#8a8a8a" stroke-width="1"/>
<text x="461.8" y="229.90" font-size="9.4" fill="#222" text-anchor="end">0</text>
<path d="M467.3 203.57H470.3" stroke="#8a8a8a" stroke-width="1"/>
<text x="461.8" y="206.88" font-size="9.4" fill="#222" text-anchor="end">0.5</text>
<path d="M467.3 180.55H470.3" stroke="#8a8a8a" stroke-width="1"/>
<text x="461.8" y="183.85" font-size="9.4" fill="#222" text-anchor="end">1</text>
<path d="M467.3 157.53H470.3" stroke="#8a8a8a" stroke-width="1"/>
<text x="461.8" y="160.83" font-size="9.4" fill="#222" text-anchor="end">1.5</text>
<path d="M467.3 134.50H470.3" stroke="#8a8a8a" stroke-width="1"/>
<text x="461.8" y="137.80" font-size="9.4" fill="#222" text-anchor="end">2</text>
<path d="M467.3 111.47H470.3" stroke="#8a8a8a" stroke-width="1"/>
<text x="461.8" y="114.77" font-size="9.4" fill="#222" text-anchor="end">2.5</text>
<path d="M467.3 88.45H470.3" stroke="#8a8a8a" stroke-width="1"/>
<text x="461.8" y="91.75" font-size="9.4" fill="#222" text-anchor="end">3</text>
<path d="M467.3 65.43H470.3" stroke="#8a8a8a" stroke-width="1"/>
<text x="461.8" y="68.73" font-size="9.4" fill="#222" text-anchor="end">3.5</text>
<path d="M467.3 42.40H470.3" stroke="#8a8a8a" stroke-width="1"/>
<text x="461.8" y="45.70" font-size="9.4" fill="#222" text-anchor="end">4</text>
<path d="M470.30 226.6V230.1" stroke="#8a8a8a" stroke-width="1"/>
<path d="M521.75 226.6V230.1" stroke="#8a8a8a" stroke-width="1"/>
<path d="M573.20 226.6V230.1" stroke="#8a8a8a" stroke-width="1"/>
<path d="M624.65 226.6V230.1" stroke="#8a8a8a" stroke-width="1"/>
<path d="M676.10 226.6V230.1" stroke="#8a8a8a" stroke-width="1"/>
<path d="M727.55 226.6V230.1" stroke="#8a8a8a" stroke-width="1"/>
<path d="M779.00 226.6V230.1" stroke="#8a8a8a" stroke-width="1"/>
<rect x="486.03" y="60.0" width="20.6" height="166.60" fill="#000"/>
<path d="M496.33 60.0V55.6M494.03 55.6H498.63" stroke="#333" stroke-width="1"/>
<text x="496.33" y="245.2" font-size="11.6" fill="#1a1a1a" text-anchor="middle">A05</text>
<rect x="537.48" y="170.9" width="20.6" height="55.70" fill="#000"/>
<path d="M547.77 170.9V166.6M545.48 166.6H550.07" stroke="#333" stroke-width="1"/>
<text x="547.77" y="245.2" font-size="11.6" fill="#1a1a1a" text-anchor="middle">H06</text>
<rect x="588.92" y="197.0" width="20.6" height="29.60" fill="#000"/>
<path d="M599.22 197.0V189.2M596.92 189.2H601.52" stroke="#333" stroke-width="1"/>
<text x="599.22" y="245.2" font-size="11.6" fill="#1a1a1a" text-anchor="middle">F07</text>
<rect x="640.38" y="120.1" width="20.6" height="106.50" fill="#000"/>
<path d="M650.67 120.1V92.7M648.38 92.7H652.97" stroke="#333" stroke-width="1"/>
<text x="650.67" y="245.2" font-size="11.6" fill="#1a1a1a" text-anchor="middle">H01</text>
<rect x="691.83" y="166.0" width="20.6" height="60.60" fill="#000"/>
<path d="M702.12 166.0V126.1M699.83 126.1H704.42" stroke="#8a8a8a" stroke-width="1"/>
<text x="702.12" y="245.2" font-size="11.6" fill="#1a1a1a" text-anchor="middle">H02</text>
<rect x="743.28" y="184.9" width="20.6" height="41.70" fill="#000"/>
<path d="M753.58 184.9V175.9M751.28 175.9H755.88" stroke="#333" stroke-width="1"/>
<text x="753.58" y="245.2" font-size="11.6" fill="#1a1a1a" text-anchor="middle">A04</text>
<text transform="translate(444.6,185.2) rotate(-90) scale(0.915,1)" font-size="15" fill="#1a1a1a">HLM-1 IC<tspan font-size="8.6" dy="1.5">50</tspan><tspan dy="-1.5"> (μM)</tspan></text>
</g>
<g>
<path d="M526.4 326.30V488.0H799.20" fill="none" stroke="#8a8a8a" stroke-width="1"/>
<path d="M522.4 488.00H526.4" stroke="#8a8a8a" stroke-width="1"/>
<text x="515.4" y="491.60" font-size="10" fill="#1a1a1a" text-anchor="end">0</text>
<path d="M522.4 464.90H526.4" stroke="#8a8a8a" stroke-width="1"/>
<text x="515.4" y="468.50" font-size="10" fill="#1a1a1a" text-anchor="end" textLength="38.7" lengthAdjust="spacingAndGlyphs">2000000</text>
<path d="M522.4 441.80H526.4" stroke="#8a8a8a" stroke-width="1"/>
<text x="515.4" y="445.40" font-size="10" fill="#1a1a1a" text-anchor="end" textLength="38.7" lengthAdjust="spacingAndGlyphs">4000000</text>
<path d="M522.4 418.70H526.4" stroke="#8a8a8a" stroke-width="1"/>
<text x="515.4" y="422.30" font-size="10" fill="#1a1a1a" text-anchor="end" textLength="38.7" lengthAdjust="spacingAndGlyphs">6000000</text>
<path d="M522.4 395.60H526.4" stroke="#8a8a8a" stroke-width="1"/>
<text x="515.4" y="399.20" font-size="10" fill="#1a1a1a" text-anchor="end" textLength="38.7" lengthAdjust="spacingAndGlyphs">8000000</text>
<path d="M522.4 372.50H526.4" stroke="#8a8a8a" stroke-width="1"/>
<text x="515.4" y="376.10" font-size="10" fill="#1a1a1a" text-anchor="end" textLength="44.2" lengthAdjust="spacingAndGlyphs">10000000</text>
<path d="M522.4 349.40H526.4" stroke="#8a8a8a" stroke-width="1"/>
<text x="515.4" y="353.00" font-size="10" fill="#1a1a1a" text-anchor="end" textLength="44.2" lengthAdjust="spacingAndGlyphs">12000000</text>
<path d="M522.4 326.30H526.4" stroke="#8a8a8a" stroke-width="1"/>
<text x="515.4" y="329.90" font-size="10" fill="#1a1a1a" text-anchor="end" textLength="44.2" lengthAdjust="spacingAndGlyphs">14000000</text>
<path d="M526.40 488.0V492.0" stroke="#8a8a8a" stroke-width="1"/>
<path d="M560.50 488.0V492.0" stroke="#8a8a8a" stroke-width="1"/>
<path d="M594.60 488.0V492.0" stroke="#8a8a8a" stroke-width="1"/>
<path d="M628.70 488.0V492.0" stroke="#8a8a8a" stroke-width="1"/>
<path d="M662.80 488.0V492.0" stroke="#8a8a8a" stroke-width="1"/>
<path d="M696.90 488.0V492.0" stroke="#8a8a8a" stroke-width="1"/>
<path d="M731.00 488.0V492.0" stroke="#8a8a8a" stroke-width="1"/>
<path d="M765.10 488.0V492.0" stroke="#8a8a8a" stroke-width="1"/>
<path d="M799.20 488.0V492.0" stroke="#8a8a8a" stroke-width="1"/>
<rect x="537.25" y="376.5" width="13" height="111.50" fill="#000"/>
<path d="M543.75 376.5V357.1M541.05 357.1H546.45" stroke="#000" stroke-width="1.3"/>
<text x="543.75" y="509.6" font-size="10.8" fill="#111" text-anchor="middle" textLength="32.5" lengthAdjust="spacingAndGlyphs">Control</text>
<rect x="571.35" y="401.2" width="13" height="86.80" fill="#000"/>
<path d="M577.85 401.2V397.4M575.15 397.4H580.55" stroke="#000" stroke-width="1.3"/>
<text x="577.85" y="509.6" font-size="10.8" fill="#111" text-anchor="middle" textLength="27.7" lengthAdjust="spacingAndGlyphs">DMSO</text>
<rect x="605.45" y="380.7" width="13" height="107.30" fill="#000"/>
<path d="M611.95 380.7V367.8M609.25 367.8H614.65" stroke="#000" stroke-width="1.3"/>
<text x="611.95" y="509.6" font-size="10.8" fill="#111" text-anchor="middle" textLength="16.7" lengthAdjust="spacingAndGlyphs">A05</text>
<rect x="639.55" y="371.8" width="13" height="116.20" fill="#000"/>
<path d="M646.05 371.8V353.2M643.35 353.2H648.75" stroke="#000" stroke-width="1.3"/>
<text x="646.05" y="509.6" font-size="10.8" fill="#111" text-anchor="middle" textLength="17.2" lengthAdjust="spacingAndGlyphs">H06</text>
<rect x="673.65" y="377.1" width="13" height="110.90" fill="#000"/>
<path d="M680.15 377.1V371.4M677.45 371.4H682.85" stroke="#000" stroke-width="1.3"/>
<text x="680.15" y="509.6" font-size="10.8" fill="#111" text-anchor="middle" textLength="15.4" lengthAdjust="spacingAndGlyphs">F07</text>
<rect x="707.75" y="376.7" width="13" height="111.30" fill="#000"/>
<path d="M714.25 376.7V355.6M711.55 355.6H716.95" stroke="#000" stroke-width="1.3"/>
<text x="714.25" y="509.6" font-size="10.8" fill="#111" text-anchor="middle" textLength="17.2" lengthAdjust="spacingAndGlyphs">H01</text>
<rect x="741.85" y="399.8" width="13" height="88.20" fill="#000"/>
<path d="M748.35 399.8V392.0M745.65 392.0H751.05" stroke="#000" stroke-width="1.3"/>
<text x="748.35" y="509.6" font-size="10.8" fill="#111" text-anchor="middle" textLength="17.2" lengthAdjust="spacingAndGlyphs">H02</text>
<rect x="775.95" y="387.6" width="13" height="100.40" fill="#000"/>
<path d="M782.45 387.6V376.7M779.75 376.7H785.15" stroke="#000" stroke-width="1.3"/>
<text x="782.45" y="509.6" font-size="10.8" fill="#111" text-anchor="middle" textLength="16.7" lengthAdjust="spacingAndGlyphs">A04</text>
<text transform="translate(459.8,406.5) rotate(-90)" font-size="10.8" font-weight="bold" fill="#111" text-anchor="middle" textLength="90" lengthAdjust="spacingAndGlyphs">Luminescence units</text>
</g>
<g>
<path d="M31.5 297.30V494.5H417.93" fill="none" stroke="#999" stroke-width="0.8"/>
<path d="M29.0 494.50H31.5" stroke="#999" stroke-width="0.8"/>
<text transform="translate(23.6,497.00) scale(0.75,1)" font-size="7.2" fill="#333" text-anchor="middle">0</text>
<path d="M29.0 469.85H31.5" stroke="#999" stroke-width="0.8"/>
<text transform="translate(23.6,472.35) scale(0.75,1)" font-size="7.2" fill="#333" text-anchor="middle">1</text>
<path d="M29.0 445.20H31.5" stroke="#999" stroke-width="0.8"/>
<text transform="translate(23.6,447.70) scale(0.75,1)" font-size="7.2" fill="#333" text-anchor="middle">2</text>
<path d="M29.0 420.55H31.5" stroke="#999" stroke-width="0.8"/>
<text transform="translate(23.6,423.05) scale(0.75,1)" font-size="7.2" fill="#333" text-anchor="middle">3</text>
<path d="M29.0 395.90H31.5" stroke="#999" stroke-width="0.8"/>
<text transform="translate(23.6,398.40) scale(0.75,1)" font-size="7.2" fill="#333" text-anchor="middle">4</text>
<path d="M29.0 371.25H31.5" stroke="#999" stroke-width="0.8"/>
<text transform="translate(23.6,373.75) scale(0.75,1)" font-size="7.2" fill="#333" text-anchor="middle">5</text>
<path d="M29.0 346.60H31.5" stroke="#999" stroke-width="0.8"/>
<text transform="translate(23.6,349.10) scale(0.75,1)" font-size="7.2" fill="#333" text-anchor="middle">6</text>
<path d="M29.0 321.95H31.5" stroke="#999" stroke-width="0.8"/>
<text transform="translate(23.6,324.45) scale(0.75,1)" font-size="7.2" fill="#333" text-anchor="middle">7</text>
<path d="M29.0 297.30H31.5" stroke="#999" stroke-width="0.8"/>
<text transform="translate(23.6,299.80) scale(0.75,1)" font-size="7.2" fill="#333" text-anchor="middle">8</text>
<path d="M31.50 494.5V497.0" stroke="#999" stroke-width="0.8"/>
<path d="M43.21 494.5V497.0" stroke="#999" stroke-width="0.8"/>
<path d="M54.92 494.5V497.0" stroke="#999" stroke-width="0.8"/>
<path d="M66.63 494.5V497.0" stroke="#999" stroke-width="0.8"/>
<path d="M78.34 494.5V497.0" stroke="#999" stroke-width="0.8"/>
<path d="M90.05 494.5V497.0" stroke="#999" stroke-width="0.8"/>
<path d="M101.76 494.5V497.0" stroke="#999" stroke-width="0.8"/>
<path d="M113.47 494.5V497.0" stroke="#999" stroke-width="0.8"/>
<path d="M125.18 494.5V497.0" stroke="#999" stroke-width="0.8"/>
<path d="M136.89 494.5V497.0" stroke="#999" stroke-width="0.8"/>
<path d="M148.60 494.5V497.0" stroke="#999" stroke-width="0.8"/>
<path d="M160.31 494.5V497.0" stroke="#999" stroke-width="0.8"/>
<path d="M172.02 494.5V497.0" stroke="#999" stroke-width="0.8"/>
<path d="M183.73 494.5V497.0" stroke="#999" stroke-width="0.8"/>
<path d="M195.44 494.5V497.0" stroke="#999" stroke-width="0.8"/>
<path d="M207.15 494.5V497.0" stroke="#999" stroke-width="0.8"/>
<path d="M218.86 494.5V497.0" stroke="#999" stroke-width="0.8"/>
<path d="M230.57 494.5V497.0" stroke="#999" stroke-width="0.8"/>
<path d="M242.28 494.5V497.0" stroke="#999" stroke-width="0.8"/>
<path d="M253.99 494.5V497.0" stroke="#999" stroke-width="0.8"/>
<path d="M265.70 494.5V497.0" stroke="#999" stroke-width="0.8"/>
<path d="M277.41 494.5V497.0" stroke="#999" stroke-width="0.8"/>
<path d="M289.12 494.5V497.0" stroke="#999" stroke-width="0.8"/>
<path d="M300.83 494.5V497.0" stroke="#999" stroke-width="0.8"/>
<path d="M312.54 494.5V497.0" stroke="#999" stroke-width="0.8"/>
<path d="M324.25 494.5V497.0" stroke="#999" stroke-width="0.8"/>
<path d="M335.96 494.5V497.0" stroke="#999" stroke-width="0.8"/>
<path d="M347.67 494.5V497.0" stroke="#999" stroke-width="0.8"/>
<path d="M359.38 494.5V497.0" stroke="#999" stroke-width="0.8"/>
<path d="M371.09 494.5V497.0" stroke="#999" stroke-width="0.8"/>
<path d="M382.80 494.5V497.0" stroke="#999" stroke-width="0.8"/>
<path d="M394.51 494.5V497.0" stroke="#999" stroke-width="0.8"/>
<path d="M406.22 494.5V497.0" stroke="#999" stroke-width="0.8"/>
<path d="M417.93 494.5V497.0" stroke="#999" stroke-width="0.8"/>
<rect x="34.36" y="482.3" width="3" height="12.20" fill="#000"/>
<rect x="37.36" y="482.3" width="3" height="12.20" fill="#808080"/>
<text transform="translate(39.16,508.4) scale(0.6,1) rotate(-45)" font-size="8.6" fill="#333" text-anchor="end">No Tat</text>
<rect x="46.06" y="337.5" width="3" height="157.00" fill="#000"/>
<rect x="49.06" y="490.5" width="3" height="4.00" fill="#808080"/>
<text transform="translate(50.86,508.4) scale(0.6,1) rotate(-45)" font-size="8.6" fill="#333" text-anchor="end">A01</text>
<rect x="57.78" y="379.8" width="3" height="114.70" fill="#000"/>
<rect x="60.78" y="492.4" width="3" height="2.10" fill="#808080"/>
<text transform="translate(62.58,508.4) scale(0.6,1) rotate(-45)" font-size="8.6" fill="#333" text-anchor="end">B01</text>
<rect x="69.48" y="453.3" width="3" height="41.20" fill="#000"/>
<rect x="72.48" y="490.1" width="3" height="4.40" fill="#808080"/>
<text transform="translate(74.28,508.4) scale(0.6,1) rotate(-45)" font-size="8.6" fill="#333" text-anchor="end">E01</text>
<rect x="81.20" y="416.7" width="3" height="77.80" fill="#000"/>
<rect x="84.20" y="457.8" width="3" height="36.70" fill="#808080"/>
<text transform="translate(86.00,508.4) scale(0.6,1) rotate(-45)" font-size="8.6" fill="#333" text-anchor="end">F01</text>
<rect x="92.91" y="351.9" width="3" height="142.60" fill="#000"/>
<rect x="95.91" y="448.0" width="3" height="46.50" fill="#808080"/>
<text transform="translate(97.70,508.4) scale(0.6,1) rotate(-45)" font-size="8.6" fill="#333" text-anchor="end">G01</text>
<rect x="104.62" y="455.2" width="3" height="39.30" fill="#000"/>
<rect x="107.62" y="469.1" width="3" height="25.40" fill="#808080"/>
<text transform="translate(109.42,508.4) scale(0.6,1) rotate(-45)" font-size="8.6" fill="#333" text-anchor="end">H01</text>
<rect x="116.33" y="413.0" width="3" height="81.50" fill="#000"/>
<rect x="119.33" y="490.1" width="3" height="4.40" fill="#808080"/>
<text transform="translate(121.12,508.4) scale(0.6,1) rotate(-45)" font-size="8.6" fill="#333" text-anchor="end">C02</text>
<rect x="128.04" y="345.5" width="3" height="149.00" fill="#000"/>
<rect x="131.04" y="462.8" width="3" height="31.70" fill="#808080"/>
<text transform="translate(132.84,508.4) scale(0.6,1) rotate(-45)" font-size="8.6" fill="#333" text-anchor="end">D02</text>
<rect x="139.75" y="353.7" width="3" height="140.80" fill="#000"/>
<rect x="142.75" y="481.8" width="3" height="12.70" fill="#808080"/>
<text transform="translate(144.55,508.4) scale(0.6,1) rotate(-45)" font-size="8.6" fill="#333" text-anchor="end">E02</text>
<rect x="151.46" y="451.3" width="3" height="43.20" fill="#000"/>
<rect x="154.46" y="454.5" width="3" height="40.00" fill="#808080"/>
<text transform="translate(156.26,508.4) scale(0.6,1) rotate(-45)" font-size="8.6" fill="#333" text-anchor="end">A03</text>
<rect x="163.17" y="455.0" width="3" height="39.50" fill="#000"/>
<rect x="166.17" y="470.3" width="3" height="24.20" fill="#808080"/>
<text transform="translate(167.97,508.4) scale(0.6,1) rotate(-45)" font-size="8.6" fill="#333" text-anchor="end">C03</text>
<rect x="174.88" y="454.6" width="3" height="39.90" fill="#000"/>
<rect x="177.88" y="492.2" width="3" height="2.30" fill="#808080"/>
<text transform="translate(179.68,508.4) scale(0.6,1) rotate(-45)" font-size="8.6" fill="#333" text-anchor="end">D03</text>
<rect x="186.59" y="403.9" width="3" height="90.60" fill="#000"/>
<rect x="189.59" y="480.3" width="3" height="14.20" fill="#808080"/>
<text transform="translate(191.39,508.4) scale(0.6,1) rotate(-45)" font-size="8.6" fill="#333" text-anchor="end">F03</text>
<rect x="198.30" y="446.3" width="3" height="48.20" fill="#000"/>
<rect x="201.30" y="468.8" width="3" height="25.70" fill="#808080"/>
<text transform="translate(203.10,508.4) scale(0.6,1) rotate(-45)" font-size="8.6" fill="#333" text-anchor="end">H03</text>
<rect x="210.01" y="444.0" width="3" height="50.50" fill="#000"/>
<rect x="213.01" y="473.4" width="3" height="21.10" fill="#808080"/>
<text transform="translate(214.81,508.4) scale(0.6,1) rotate(-45)" font-size="8.6" fill="#333" text-anchor="end">E04</text>
<rect x="221.72" y="423.8" width="3" height="70.70" fill="#000"/>
<rect x="224.72" y="487.4" width="3" height="7.10" fill="#808080"/>
<text transform="translate(226.52,508.4) scale(0.6,1) rotate(-45)" font-size="8.6" fill="#333" text-anchor="end">A05</text>
<rect x="233.43" y="445.2" width="3" height="49.30" fill="#000"/>
<rect x="236.43" y="466.5" width="3" height="28.00" fill="#808080"/>
<text transform="translate(238.23,508.4) scale(0.6,1) rotate(-45)" font-size="8.6" fill="#333" text-anchor="end">E05</text>
<rect x="245.14" y="454.1" width="3" height="40.40" fill="#000"/>
<rect x="248.14" y="445.2" width="3" height="49.30" fill="#808080"/>
<text transform="translate(249.94,508.4) scale(0.6,1) rotate(-45)" font-size="8.6" fill="#333" text-anchor="end">D06</text>
<rect x="256.85" y="384.8" width="3" height="109.70" fill="#000"/>
<rect x="259.85" y="479.9" width="3" height="14.60" fill="#808080"/>
<text transform="translate(261.65,508.4) scale(0.6,1) rotate(-45)" font-size="8.6" fill="#333" text-anchor="end">H06</text>
<rect x="268.56" y="481.8" width="3" height="12.70" fill="#000"/>
<rect x="271.56" y="461.3" width="3" height="33.20" fill="#808080"/>
<text transform="translate(273.36,508.4) scale(0.6,1) rotate(-45)" font-size="8.6" fill="#333" text-anchor="end">B07</text>
<rect x="280.26" y="486.8" width="3" height="7.70" fill="#000"/>
<rect x="283.26" y="492.2" width="3" height="2.30" fill="#808080"/>
<text transform="translate(285.06,508.4) scale(0.6,1) rotate(-45)" font-size="8.6" fill="#333" text-anchor="end">F07</text>
<rect x="291.98" y="454.1" width="3" height="40.40" fill="#000"/>
<rect x="294.98" y="463.2" width="3" height="31.30" fill="#808080"/>
<text transform="translate(296.78,508.4) scale(0.6,1) rotate(-45)" font-size="8.6" fill="#333" text-anchor="end">B08</text>
<rect x="303.69" y="478.6" width="3" height="15.90" fill="#000"/>
<rect x="306.69" y="493.2" width="3" height="1.30" fill="#808080"/>
<text transform="translate(308.49,508.4) scale(0.6,1) rotate(-45)" font-size="8.6" fill="#333" text-anchor="end">B09</text>
<rect x="315.40" y="394.5" width="3" height="100.00" fill="#000"/>
<rect x="318.40" y="480.3" width="3" height="14.20" fill="#808080"/>
<text transform="translate(320.20,508.4) scale(0.6,1) rotate(-45)" font-size="8.6" fill="#333" text-anchor="end">C09</text>
<rect x="327.11" y="340.2" width="3" height="154.30" fill="#000"/>
<rect x="330.11" y="494.0" width="3" height="0.50" fill="#808080"/>
<text transform="translate(331.91,508.4) scale(0.6,1) rotate(-45)" font-size="8.6" fill="#333" text-anchor="end">C10</text>
<rect x="338.81" y="473.0" width="3" height="21.50" fill="#000"/>
<rect x="341.81" y="492.9" width="3" height="1.60" fill="#808080"/>
<text transform="translate(343.62,508.4) scale(0.6,1) rotate(-45)" font-size="8.6" fill="#333" text-anchor="end">C11</text>
<rect x="350.53" y="461.0" width="3" height="33.50" fill="#000"/>
<rect x="353.53" y="491.0" width="3" height="3.50" fill="#808080"/>
<text transform="translate(355.33,508.4) scale(0.6,1) rotate(-45)" font-size="8.6" fill="#333" text-anchor="end">E11</text>
<rect x="362.24" y="462.0" width="3" height="32.50" fill="#000"/>
<rect x="365.24" y="493.6" width="3" height="0.90" fill="#808080"/>
<text transform="translate(367.04,508.4) scale(0.6,1) rotate(-45)" font-size="8.6" fill="#333" text-anchor="end">F11</text>
<rect x="373.95" y="311.8" width="3" height="182.70" fill="#000"/>
<rect x="376.95" y="493.0" width="3" height="1.50" fill="#808080"/>
<text transform="translate(378.75,508.4) scale(0.6,1) rotate(-45)" font-size="8.6" fill="#333" text-anchor="end">G11</text>
<rect x="385.66" y="448.9" width="3" height="45.60" fill="#000"/>
<rect x="388.66" y="453.0" width="3" height="41.50" fill="#808080"/>
<text transform="translate(390.46,508.4) scale(0.6,1) rotate(-45)" font-size="8.6" fill="#333" text-anchor="end">B12</text>
<rect x="397.37" y="451.5" width="3" height="43.00" fill="#000"/>
<text transform="translate(402.17,508.4) scale(0.6,1) rotate(-45)" font-size="8.6" fill="#333" text-anchor="end">F12</text>
<rect x="409.08" y="456.3" width="3" height="38.20" fill="#000"/>
<rect x="412.08" y="491.6" width="3" height="2.90" fill="#808080"/>
<text transform="translate(413.88,508.4) scale(0.6,1) rotate(-45)" font-size="8.6" fill="#333" text-anchor="end">H12</text>
<path d="M31.5 468.9H417.3" stroke="#ec6e80" stroke-width="2" opacity="0.8"/>
<rect x="428.2" y="403.2" width="3.5" height="4.5" fill="#000"/>
<text x="434" y="407.6" font-size="6.6" fill="#333" textLength="12" lengthAdjust="spacingAndGlyphs">1uM</text>
<rect x="428.2" y="418.1" width="3.5" height="4.5" fill="#8a8a8a"/>
<text x="434" y="422.5" font-size="6.6" fill="#333" textLength="16" lengthAdjust="spacingAndGlyphs">10uM</text>
<text transform="translate(11.2,392.2) rotate(-90)" font-size="10" fill="#6a6a6a" text-anchor="middle" textLength="107.5" lengthAdjust="spacingAndGlyphs">Fold Change Luciferase</text>
</g>
</svg>
</body></html>
